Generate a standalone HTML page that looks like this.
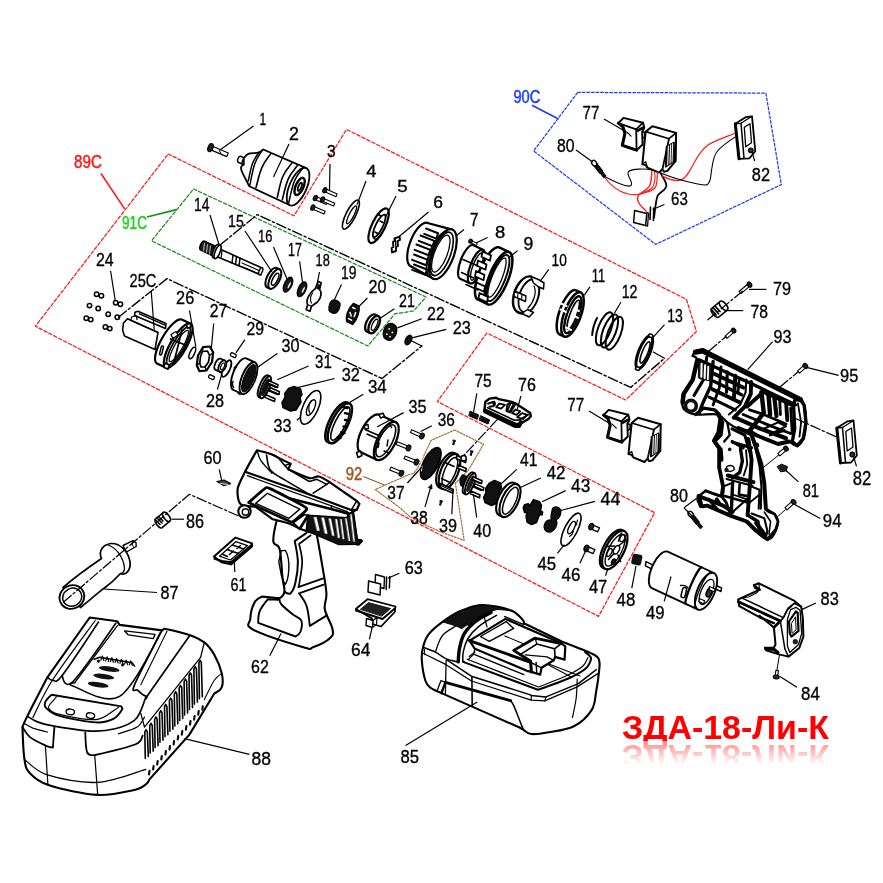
<!DOCTYPE html>
<html><head><meta charset="utf-8"><title>ЗДА-18-Ли-К</title>
<style>html,body{margin:0;padding:0;background:#fff}svg{display:block}text{font-family:"Liberation Sans",sans-serif}</style></head>
<body><svg width="883" height="883" viewBox="0 0 883 883">
<rect width="883" height="883" fill="#fff"/>
<defs><filter id="nf" x="0" y="0" width="883" height="883" filterUnits="userSpaceOnUse"><feOffset dx="0" dy="0"/></filter></defs>
<g filter="url(#nf)"><defs><linearGradient id="rg" x1="0" y1="0" x2="0" y2="1"><stop offset="0" stop-color="#fff" stop-opacity="0.55"/><stop offset="0.75" stop-color="#fff" stop-opacity="1"/></linearGradient></defs>
<text x="622" y="739" font-size="33" font-weight="bold" fill="#ff0000" textLength="207" lengthAdjust="spacingAndGlyphs">ЗДА-18-Ли-К</text>
<g transform="translate(0 1484) scale(1 -1)"><text x="622" y="739" font-size="33" font-weight="bold" fill="#ff0000" textLength="207" lengthAdjust="spacingAndGlyphs">ЗДА-18-Ли-К</text></g>
<rect x="615" y="741" width="225" height="32" fill="url(#rg)"/></g>
<path d="M168.2 154 L294 215.8 L346.5 129.4 L686.4 299.3 L696.4 331.6 L625.7 400 L486.8 333.1 L437.4 401.6 L654.7 512.7 L598.5 616.4 L35.4 326.2 Z" stroke="#ff1a1a" stroke-width="1.25" fill="none" stroke-linejoin="round" stroke-linecap="round" stroke-dasharray="3.4 2.1"/>
<path d="M193.6 189 L426 297 L413.6 311 L395 313.7 L367.8 346 L151.5 240.8 Z" stroke="#1a8f1a" stroke-width="1.25" fill="none" stroke-linejoin="round" stroke-linecap="round" stroke-dasharray="3.4 2.1"/>
<path d="M577.7 92.4 L765.9 93.1 L781.3 184.6 L655.7 244.4 L533.6 151 Z" stroke="#1a3cff" stroke-width="1.25" fill="none" stroke-linejoin="round" stroke-linecap="round" stroke-dasharray="2.6 2.0"/>
<path d="M454.6 430 L483.5 444.2 L468.3 470.4 L455.4 483.3 L464.2 540.4 L439.7 531.6 L419.4 522.1 L409.9 516.6 L399 507.1 L375.2 489.5 L409.4 474.4 L413.7 473.6 L419.4 465 L431.1 440.4 Z" stroke="#a5682a" stroke-width="1.15" fill="none" stroke-linejoin="round" stroke-linecap="round" stroke-dasharray="1.8 1.4"/>
<path d="M209.7 149.4 L226.7 156.6 L228.3 153 L211.3 145.8 Z" stroke="#000" stroke-width="1.2" fill="#fff" stroke-linejoin="round" stroke-linecap="round" /><ellipse cx="0" cy="0" rx="2.4" ry="4.2" transform="translate(210.5 147.6) rotate(23)" stroke="#000" stroke-width="1.2" fill="#222"/>
<line x1="219" y1="150" x2="221" y2="153.5" stroke="#000" stroke-width="1" />
<path d="M245.1 158.4 L240.6 156.3 A1.5 3.2 22 0 0 238.2 162.3 L242.7 164.4 Z" stroke="#000" stroke-width="1.5" fill="#fff" stroke-linejoin="round" stroke-linecap="round" /><ellipse cx="0" cy="0" rx="1.5" ry="3.2" transform="translate(243.9 161.4) rotate(22)" stroke="#000" stroke-width="1.5" fill="#fff"/>
<path d="M243.8 158.1 C244.6 157.4 246.3 154.5 248.8 153.6 C251.2 152.7 255.9 153.4 258.3 152.7 C260.7 152 262.4 150 263.2 149.5 L306.3 168.1 L290 205.2 L249.2 186.2 L249.2 186.2 C248.9 185.6 248.6 185 247.4 182.6 C246.2 180.2 243 174.3 242 171.7 C240.9 169.1 240.8 168.4 241.1 167.2 C241.4 166 243.3 164.9 243.8 164.5 Z" stroke="#000" stroke-width="1.8" fill="#fff" stroke-linejoin="round" stroke-linecap="round" />
<ellipse cx="0" cy="0" rx="8.6" ry="20.3" transform="translate(298.1 186.7) rotate(23.7)" stroke="#000" stroke-width="1.8" fill="#fff"/>
<path d="M259.2 152.2 C257.9 154.4 254.8 157.4 252.7 163.1 C250.5 168.8 249.2 177.2 248.3 180.8" stroke="#000" stroke-width="1.5" fill="none" stroke-linejoin="round" stroke-linecap="round" />
<path d="M262.3 150.1 C260.8 152.9 257.3 156.7 254.8 163.7 C252.3 170.8 250.8 181 249.8 185.3" stroke="#000" stroke-width="1.5" fill="none" stroke-linejoin="round" stroke-linecap="round" />
<path d="M270.9 153.6 C269.1 156.4 264.9 160.8 261.9 167.6 C258.9 174.4 257.2 183.6 256 187.6" stroke="#000" stroke-width="1.6" fill="none" stroke-linejoin="round" stroke-linecap="round" />
<path d="M291.8 163.1 C290 165.8 285.6 169.9 282.7 176.7 C279.8 183.5 278.4 193.1 277.3 197.2" stroke="#000" stroke-width="1.6" fill="none" stroke-linejoin="round" stroke-linecap="round" />
<path d="M297.2 165.8 C295.4 168.5 291.1 172.3 288.2 179.1 C285.2 185.9 283.4 195.7 282.3 199.8" stroke="#000" stroke-width="1.6" fill="none" stroke-linejoin="round" stroke-linecap="round" />
<path d="M303.6 167.2 C301.7 169.9 297.5 173.7 294.5 180.9 C291.5 188.2 289.8 198.9 288.6 203.4" stroke="#000" stroke-width="1.5" fill="none" stroke-linejoin="round" stroke-linecap="round" />
<ellipse cx="0" cy="0" rx="3.9" ry="9.2" transform="translate(299.6 186.4) rotate(23.7)" stroke="#000" stroke-width="2.4" fill="none"/>
<ellipse cx="0" cy="0" rx="1.5" ry="4.4" transform="translate(299.9 186.8) rotate(23.7)" stroke="#000" stroke-width="1.8" fill="none"/>
<path d="M324.2 191.6 L336 196.7 L337.2 193.9 L325.4 188.8 Z" stroke="#000" stroke-width="1.1" fill="#fff" stroke-linejoin="round" stroke-linecap="round" /><ellipse cx="0" cy="0" rx="1.9" ry="2.8" transform="translate(324.8 190.2) rotate(23.4)" stroke="#000" stroke-width="1.1" fill="#222"/>
<path d="M314.7 199.4 L326.4 204.4 L327.6 201.6 L315.9 196.6 Z" stroke="#000" stroke-width="1.1" fill="#fff" stroke-linejoin="round" stroke-linecap="round" /><ellipse cx="0" cy="0" rx="1.9" ry="2.8" transform="translate(315.3 198) rotate(23.1)" stroke="#000" stroke-width="1.1" fill="#222"/>
<path d="M321.9 201 L333.6 206 L334.8 203.2 L323.1 198.2 Z" stroke="#000" stroke-width="1.1" fill="#fff" stroke-linejoin="round" stroke-linecap="round" /><ellipse cx="0" cy="0" rx="1.9" ry="2.8" transform="translate(322.5 199.6) rotate(23.1)" stroke="#000" stroke-width="1.1" fill="#222"/>
<path d="M312.2 209 L324 214 L325.2 211.2 L313.4 206.2 Z" stroke="#000" stroke-width="1.1" fill="#fff" stroke-linejoin="round" stroke-linecap="round" /><ellipse cx="0" cy="0" rx="1.9" ry="2.8" transform="translate(312.8 207.6) rotate(23)" stroke="#000" stroke-width="1.1" fill="#222"/>
<ellipse cx="0" cy="0" rx="4.8" ry="16.2" transform="translate(350.9 214.6) rotate(27)" stroke="#000" stroke-width="1.6" fill="#fff"/>
<ellipse cx="0" cy="0" rx="2.4" ry="10" transform="translate(351.6 214.8) rotate(27)" stroke="#000" stroke-width="1.3" fill="none"/>
<ellipse cx="0" cy="0" rx="6.6" ry="19" transform="translate(378.6 225.7) rotate(26)" stroke="#000" stroke-width="2.2" fill="#fff"/>
<ellipse cx="0" cy="0" rx="3.6" ry="12.5" transform="translate(379.2 225.9) rotate(26)" stroke="#000" stroke-width="1.8" fill="none"/>
<path d="M377.5 214 L381 216 M375 232 L378.5 234 M380 221 L383 222.5" stroke="#000" stroke-width="1.6" fill="none" stroke-linejoin="round" stroke-linecap="round" />
<path d="M373 236 C374 241 378 240 381 234" stroke="#000" stroke-width="1.4" fill="none" stroke-linejoin="round" stroke-linecap="round" />
<path d="M394.5 238.5 L399.6 236.6 L400 240 L397.6 241.2 L398 246 L396 247 L396 251 L392 252.4 L391.6 248 L393.4 247 L393 241.8 L394.6 241.2 Z" stroke="#000" stroke-width="1.9" fill="#fff" stroke-linejoin="round" stroke-linecap="round" />
<path d="M395.5 240 L395.8 245.5" stroke="#000" stroke-width="1.4" fill="none" stroke-linejoin="round" stroke-linecap="round" />
<path d="M452.3 229.6 L428.5 223.3 A9.5 23.2 21 0 0 410.3 266 L433.3 278.8 Z" stroke="#000" stroke-width="2.2" fill="#fff" stroke-linejoin="round" stroke-linecap="round" />
<ellipse cx="0" cy="0" rx="11" ry="26.4" transform="translate(442.8 254.2) rotate(21)" stroke="#000" stroke-width="2.2" fill="#fff"/>
<ellipse cx="0" cy="0" rx="8.6" ry="23" transform="translate(441.8 253.9) rotate(21)" stroke="#000" stroke-width="1.7" fill="none"/>
<ellipse cx="0" cy="0" rx="6.4" ry="19.6" transform="translate(440.8 253.6) rotate(21)" stroke="#000" stroke-width="1.3" fill="none"/>
<path d="M446.5 231.5 A10.5 25 21 0 0 428 275.5" stroke="#000" stroke-width="1.8" fill="none" stroke-linejoin="round" stroke-linecap="round" />
<path d="M426 228.5 L438.1 233.2 L436.3 238.6 L424.2 233.9" stroke="#000" stroke-width="2.0" fill="none" stroke-linejoin="round" stroke-linecap="round" />
<path d="M420.5 235.5 L434.4 240.9 L432.6 246.3 L418.7 240.9" stroke="#000" stroke-width="2.0" fill="none" stroke-linejoin="round" stroke-linecap="round" />
<path d="M416.5 244.5 L430.4 249.9 L428.6 255.3 L414.7 249.9" stroke="#000" stroke-width="2.0" fill="none" stroke-linejoin="round" stroke-linecap="round" />
<path d="M414 254.5 L427.9 259.9 L426.1 265.3 L412.2 259.9" stroke="#000" stroke-width="2.0" fill="none" stroke-linejoin="round" stroke-linecap="round" />
<path d="M414 264.5 L427 269.5 L425.2 274.9 L412.2 269.9" stroke="#000" stroke-width="2.0" fill="none" stroke-linejoin="round" stroke-linecap="round" />
<path d="M470.1 242.2 L476.3 245.6 L477.3 243.6 L471.1 240.2 Z" stroke="#000" stroke-width="1" fill="#fff" stroke-linejoin="round" stroke-linecap="round" /><ellipse cx="0" cy="0" rx="1.8" ry="2.1" transform="translate(470.6 241.2) rotate(28.7)" stroke="#000" stroke-width="1" fill="#222"/>
<path d="M483 249.7 L473 245.1 A6.2 18 21 0 0 460.1 278.7 L470 283.3 Z" stroke="#000" stroke-width="2.2" fill="#fff" stroke-linejoin="round" stroke-linecap="round" /><ellipse cx="0" cy="0" rx="6.2" ry="18" transform="translate(476.5 266.5) rotate(21)" stroke="#000" stroke-width="2.2" fill="#fff"/>
<ellipse cx="0" cy="0" rx="4" ry="14.5" transform="translate(476.8 266.6) rotate(21)" stroke="#000" stroke-width="1.4" fill="none"/>
<path d="M509.2 252.1 L499.2 247.4 A9.6 28.2 22 0 0 478.1 299.7 L488 304.3 Z" stroke="#000" stroke-width="2.5" fill="#fff" stroke-linejoin="round" stroke-linecap="round" /><ellipse cx="0" cy="0" rx="9.6" ry="28.2" transform="translate(498.6 278.2) rotate(22)" stroke="#000" stroke-width="2.5" fill="#fff"/>
<ellipse cx="0" cy="0" rx="7.2" ry="24.8" transform="translate(498 278) rotate(22)" stroke="#000" stroke-width="1.9" fill="none"/>
<ellipse cx="0" cy="0" rx="5" ry="21" transform="translate(497 277.6) rotate(22)" stroke="#000" stroke-width="1.3" fill="none"/>
<path d="M482.5 251.5 L491 255.4 L490 260.7 L481.5 256.8 Z" stroke="#000" stroke-width="1.8" fill="#fff" stroke-linejoin="round" stroke-linecap="round" />
<path d="M478 260.5 L486.5 264.4 L485.5 269.7 L477 265.8 Z" stroke="#000" stroke-width="1.8" fill="#fff" stroke-linejoin="round" stroke-linecap="round" />
<path d="M476 271 L484.5 274.9 L483.5 280.2 L475 276.3 Z" stroke="#000" stroke-width="1.8" fill="#fff" stroke-linejoin="round" stroke-linecap="round" />
<path d="M476.5 282.5 L485 286.4 L484 291.7 L475.5 287.8 Z" stroke="#000" stroke-width="1.8" fill="#fff" stroke-linejoin="round" stroke-linecap="round" />
<path d="M479.5 293 L488 296.9 L487 302.2 L478.5 298.3 Z" stroke="#000" stroke-width="1.8" fill="#fff" stroke-linejoin="round" stroke-linecap="round" />
<path d="M463 259.5 L478 266 M461.5 272.5 L476 279 M466 284.5 L478 290" stroke="#000" stroke-width="1.6" fill="none" stroke-linejoin="round" stroke-linecap="round" />
<path d="M531 276.5 C523 275 514 287 513 300 C512.5 308 516 313 522 313.5" stroke="#000" stroke-width="2.4" fill="none" stroke-linejoin="round" stroke-linecap="round" />
<path d="M533.5 279 C527 279 519 289 518.5 301 C518 308 521 312 525.5 312.5" stroke="#000" stroke-width="1.8" fill="none" stroke-linejoin="round" stroke-linecap="round" />
<path d="M537 282 C542 290 538 304 530 311" stroke="#000" stroke-width="2.0" fill="none" stroke-linejoin="round" stroke-linecap="round" />
<path d="M534 286 C537 292 534 302 528 308" stroke="#000" stroke-width="1.2" fill="none" stroke-linejoin="round" stroke-linecap="round" />
<path d="M531 276.5 L538.5 279.5 L544 283 L543.5 289 L538 286.5 L533.5 283 Z" stroke="#000" stroke-width="1.5" fill="#fff" stroke-linejoin="round" stroke-linecap="round" />
<path d="M522 313.5 L529 317 L533.5 312.5 L527.5 309.5 Z" stroke="#000" stroke-width="1.5" fill="#fff" stroke-linejoin="round" stroke-linecap="round" />
<path d="M514.5 291 L526 296 L525.5 301.5 L514 296.5 Z" stroke="#000" stroke-width="1.4" fill="#fff" stroke-linejoin="round" stroke-linecap="round" />
<path d="M518 292.5 L517.5 298 M522 294.2 L521.5 299.7" stroke="#000" stroke-width="1.1" fill="none" stroke-linejoin="round" stroke-linecap="round" />
<path d="M580.5 292.4 L576 290.3 A8.4 23.5 20 0 0 559.9 334.5 L564.5 336.6 Z" stroke="#000" stroke-width="2.5" fill="#fff" stroke-linejoin="round" stroke-linecap="round" /><ellipse cx="0" cy="0" rx="8.4" ry="23.5" transform="translate(572.5 314.5) rotate(20)" stroke="#000" stroke-width="2.5" fill="#fff"/>
<ellipse cx="0" cy="0" rx="5.8" ry="19.5" transform="translate(572.8 314.7) rotate(20)" stroke="#000" stroke-width="2.4" fill="none"/>
<ellipse cx="0" cy="0" rx="3.4" ry="15.5" transform="translate(573.3 314.9) rotate(20)" stroke="#000" stroke-width="1.6" fill="none"/>
<path d="M561 303.5 L566.5 306 M560.5 309.5 L566 312 M574 309 L579 311 M573 315.5 L578 317.8 M566 327.5 L571 330" stroke="#fff" stroke-width="2.0" fill="none" stroke-linejoin="round" stroke-linecap="round" />
<ellipse cx="0" cy="0" rx="6.4" ry="17.5" transform="translate(604.5 328.8) rotate(21)" stroke="#000" stroke-width="2.0" fill="none"/>
<ellipse cx="0" cy="0" rx="6.4" ry="17.5" transform="translate(609.5 331) rotate(21)" stroke="#000" stroke-width="2.0" fill="none"/>
<ellipse cx="0" cy="0" rx="6.4" ry="17.5" transform="translate(614.3 333.2) rotate(21)" stroke="#000" stroke-width="2.0" fill="none"/>
<path d="M597 318 C594 324 592.5 330 592.2 335" stroke="#000" stroke-width="2.0" fill="none" stroke-linejoin="round" stroke-linecap="round" />
<ellipse cx="0" cy="0" rx="5.6" ry="17.5" transform="translate(644.3 352.2) rotate(22)" stroke="#000" stroke-width="3.0" fill="#fff"/>
<ellipse cx="0" cy="0" rx="2.8" ry="11.5" transform="translate(645 352.4) rotate(22)" stroke="#000" stroke-width="1.5" fill="none"/>
<ellipse cx="0" cy="0" rx="2.2" ry="1.6" transform="translate(650.8 335.8) rotate(22)" stroke="#000" stroke-width="1.6" fill="#fff"/>
<ellipse cx="0" cy="0" rx="2.2" ry="1.6" transform="translate(637.6 368.6) rotate(22)" stroke="#000" stroke-width="1.6" fill="#fff"/>
<path d="M217.5 248 L260.5 267.3 L261 275 L216.5 256.5 Z" stroke="#000" stroke-width="1.6" fill="#fff" stroke-linejoin="round" stroke-linecap="round" />
<ellipse cx="0" cy="0" rx="1.6" ry="3.9" transform="translate(260.8 271.2) rotate(22)" stroke="#000" stroke-width="1.4" fill="#fff"/>
<path d="M233 255 L232 263 M236.5 256.5 L235.5 264.5 M240 258.2 L239 266" stroke="#000" stroke-width="1.5" fill="none" stroke-linejoin="round" stroke-linecap="round" />
<path d="M242 263 L259 270.5 M243 267 L258.5 273.8" stroke="#000" stroke-width="1.1" fill="none" stroke-linejoin="round" stroke-linecap="round" />
<path d="M222 251 L221 258.5" stroke="#000" stroke-width="1.2" fill="none" stroke-linejoin="round" stroke-linecap="round" />
<path d="M214.8 246 L204.4 241.2 A2.2 4.8 22 0 0 200.8 250.1 L211.2 255 Z" stroke="#000" stroke-width="1.5" fill="#222" stroke-linejoin="round" stroke-linecap="round" /><ellipse cx="0" cy="0" rx="2.2" ry="4.8" transform="translate(213 250.5) rotate(22)" stroke="#000" stroke-width="1.5" fill="#222"/>
<path d="M204.5 243.5 L203.5 251 M207.5 244.8 L206.5 252.5 M210.5 246 L209.5 254" stroke="#fff" stroke-width="0.7" fill="none" stroke-linejoin="round" stroke-linecap="round" />
<path d="M220.3 245.1 L218.3 244.2 A2.4 7.2 22 0 0 212.9 257.5 L214.9 258.5 Z" stroke="#000" stroke-width="1.6" fill="#fff" stroke-linejoin="round" stroke-linecap="round" /><ellipse cx="0" cy="0" rx="2.4" ry="7.2" transform="translate(217.6 251.8) rotate(22)" stroke="#000" stroke-width="1.6" fill="#fff"/>
<path d="M279.7 269.4 L276.8 268 A4.8 10.8 27 0 0 267 287.3 L269.9 288.6 Z" stroke="#000" stroke-width="2.0" fill="#fff" stroke-linejoin="round" stroke-linecap="round" /><ellipse cx="0" cy="0" rx="4.8" ry="10.8" transform="translate(274.8 279) rotate(27)" stroke="#000" stroke-width="2.0" fill="#fff"/>
<ellipse cx="0" cy="0" rx="2.4" ry="6.6" transform="translate(275.2 279.2) rotate(27)" stroke="#000" stroke-width="1.5" fill="none"/>
<ellipse cx="0" cy="0" rx="3.6" ry="7.8" transform="translate(288 284.6) rotate(25)" stroke="#000" stroke-width="1.6" fill="#1a1a1a"/>
<ellipse cx="0" cy="0" rx="0.5" ry="3.2" transform="translate(289.3 285.2) rotate(25)" stroke="#fff" stroke-width="0.5" fill="#fff"/>
<ellipse cx="0" cy="0" rx="3.6" ry="7.8" transform="translate(302 289.3) rotate(25)" stroke="#000" stroke-width="1.6" fill="#1a1a1a"/>
<ellipse cx="0" cy="0" rx="0.5" ry="3" transform="translate(303.3 289.9) rotate(25)" stroke="#fff" stroke-width="0.5" fill="#fff"/>
<path d="M318.2 281.5 L321.2 282.8 L319.6 289.5 C322 292 321.5 298 317.5 302 L311.5 306.2 L310 311.2 L306.2 309.8 L307.6 304.8 C305.5 300 309.5 292.5 315.2 288.8 Z" stroke="#000" stroke-width="1.7" fill="#fff" stroke-linejoin="round" stroke-linecap="round" />
<path d="M316.5 288 L319.2 289.3 M308 304.8 L311.6 306.2 M312.5 293 C310 297 310 300.5 311.5 303" stroke="#000" stroke-width="1.2" fill="none" stroke-linejoin="round" stroke-linecap="round" />
<path d="M318.6 284.5 L319.8 285 L319 288.5 L317.6 288 Z" stroke="#000" stroke-width="1.0" fill="#000" stroke-linejoin="round" stroke-linecap="round" />
<path d="M332 300.5 C335 299.2 339 300.8 340 303.5 C340.5 307 338.2 311.6 336 313 C333 314 329.6 312.4 329 310 C328.5 306.5 329.8 302.2 332 300.5 Z" stroke="#000" stroke-width="1.3" fill="#111" stroke-linejoin="round" stroke-linecap="round" />
<path d="M353.4 303.6 L359 306.2 C360 311 357.2 319.6 352.6 324.4 L346.8 321.6 C345.4 316 348.6 307.8 353.4 303.6 Z" stroke="#000" stroke-width="1.6" fill="#111" stroke-linejoin="round" stroke-linecap="round" />
<path d="M352.6 307.5 L355 308.6 M350 312.5 L351.2 316 M355.6 312.5 L354.2 316.5 M348.6 318.6 L351.6 320.2" stroke="#fff" stroke-width="1.5" fill="none" stroke-linejoin="round" stroke-linecap="round" />
<path d="M378.3 316.2 L375.1 314.6 A4.6 9.4 26 0 0 366.8 331.5 L370.1 333 Z" stroke="#000" stroke-width="2.3" fill="#fff" stroke-linejoin="round" stroke-linecap="round" /><ellipse cx="0" cy="0" rx="4.6" ry="9.4" transform="translate(374.2 324.6) rotate(26)" stroke="#000" stroke-width="2.3" fill="#fff"/>
<ellipse cx="0" cy="0" rx="2.2" ry="6" transform="translate(374.6 324.8) rotate(26)" stroke="#000" stroke-width="1.3" fill="none"/>
<path d="M388.4 324.2 C392 322.4 396.4 325 396.7 329 C396.9 333.6 394.2 338.8 391 340 C387.4 340.7 383.7 338.4 383.3 334.8 C383.2 330.6 385.1 326.5 388.4 324.2 Z" stroke="#000" stroke-width="1.5" fill="#111" stroke-linejoin="round" stroke-linecap="round" />
<circle cx="389.2" cy="328.8" r="0.9" fill="#fff"/><circle cx="386.8" cy="334.2" r="0.9" fill="#fff"/><circle cx="392.4" cy="332.4" r="0.9" fill="#fff"/><circle cx="390" cy="336.6" r="0.9" fill="#fff"/>
<ellipse cx="0" cy="0" rx="2.9" ry="5.2" transform="translate(408.4 340) rotate(28)" stroke="#000" stroke-width="1.2" fill="#111"/>
<circle cx="96.6" cy="294.2" r="2.2" fill="#fff" stroke="#000" stroke-width="1.55"/>
<circle cx="101.4" cy="295.8" r="2.2" fill="#fff" stroke="#000" stroke-width="1.55"/>
<circle cx="115.7" cy="302.8" r="2.2" fill="#fff" stroke="#000" stroke-width="1.55"/>
<circle cx="120.4" cy="304.3" r="2.2" fill="#fff" stroke="#000" stroke-width="1.55"/>
<circle cx="89.5" cy="305.6" r="2.2" fill="#fff" stroke="#000" stroke-width="1.55"/>
<circle cx="98.2" cy="308.5" r="2.2" fill="#fff" stroke="#000" stroke-width="1.55"/>
<circle cx="108.2" cy="314.3" r="2.2" fill="#fff" stroke="#000" stroke-width="1.55"/>
<circle cx="117.3" cy="317.2" r="2.2" fill="#fff" stroke="#000" stroke-width="1.55"/>
<circle cx="86.3" cy="318.3" r="2.2" fill="#fff" stroke="#000" stroke-width="1.55"/>
<circle cx="90.8" cy="319.6" r="2.2" fill="#fff" stroke="#000" stroke-width="1.55"/>
<circle cx="105.4" cy="327" r="2.2" fill="#fff" stroke="#000" stroke-width="1.55"/>
<circle cx="109.8" cy="328.6" r="2.2" fill="#fff" stroke="#000" stroke-width="1.55"/>
<path d="M135 312.3 L138 311.2 L166 323.6 L165.5 328.5 L134.5 315.5 Z" stroke="#000" stroke-width="1.6" fill="#fff" stroke-linejoin="round" stroke-linecap="round" />
<path d="M136.5 315.8 L137 319.5 M139.5 313.8 L165 325.2" stroke="#000" stroke-width="1.3" fill="none" stroke-linejoin="round" stroke-linecap="round" />
<path d="M127.5 318.8 L158 332.5 L155 349.5 L124.5 336 L122.6 330 L123.5 323 Z" stroke="#000" stroke-width="1.6" fill="#fff" stroke-linejoin="round" stroke-linecap="round" />
<path d="M131 320.5 L131.5 317 L135 316 M131.5 320.6 L157 332" stroke="#000" stroke-width="1.2" fill="none" stroke-linejoin="round" stroke-linecap="round" />
<path d="M190.8 323.8 L181.7 319.6 A8 25.2 30 0 0 156.5 363.2 L165.6 367.4 Z" stroke="#000" stroke-width="2.2" fill="#fff" stroke-linejoin="round" stroke-linecap="round" /><ellipse cx="0" cy="0" rx="8" ry="25.2" transform="translate(178.2 345.6) rotate(30)" stroke="#000" stroke-width="2.2" fill="#fff"/>
<ellipse cx="0" cy="0" rx="5.8" ry="21.5" transform="translate(178.5 345.8) rotate(30)" stroke="#000" stroke-width="1.8" fill="none"/>
<ellipse cx="0" cy="0" rx="4" ry="18" transform="translate(178.8 346) rotate(30)" stroke="#000" stroke-width="1.3" fill="none"/>
<path d="M170.5 339 L186.5 345.5 M182 330 L174 362" stroke="#000" stroke-width="1.7" fill="none" stroke-linejoin="round" stroke-linecap="round" />
<path d="M171 334.5 L176 331.5 L178 335 L173 338.5 Z" stroke="#000" stroke-width="1.4" fill="#fff" stroke-linejoin="round" stroke-linecap="round" />
<path d="M186.5 324.6 L190.2 323.6 L191 326.8 L187.6 328.2 Z" stroke="#000" stroke-width="1.6" fill="#fff" stroke-linejoin="round" stroke-linecap="round" />
<path d="M165 363 L169 365 L168 369.2 L164 367.2 Z" stroke="#000" stroke-width="1.6" fill="#fff" stroke-linejoin="round" stroke-linecap="round" />
<rect x="-1.1" y="-4.6" width="2.2" height="9.2" rx="1.1" transform="translate(161.5 350.5) rotate(14)" fill="#fff" stroke="#000" stroke-width="1.5"/>
<ellipse cx="0" cy="0" rx="2.3" ry="6.2" transform="translate(192.3 352.9) rotate(25)" stroke="#000" stroke-width="1.5" fill="none"/>
<path d="M203 347.2 L209.8 346.5 L213.2 352.5 L212 362 L206.5 370.5 L199.5 371.2 L196.8 365.5 L198 355.5 Z" stroke="#000" stroke-width="2.2" fill="#fff" stroke-linejoin="round" stroke-linecap="round" />
<path d="M202.5 351.5 L207.5 351 L209.5 355.5 L208.5 362 L205 367 L201 367 L199.8 363 L200.5 356.5 Z" stroke="#000" stroke-width="1.7" fill="none" stroke-linejoin="round" stroke-linecap="round" />
<path d="M203 347.2 L202.5 351.5 M213.2 352.5 L209.5 355.5 M206.5 370.5 L205 367 M196.8 365.5 L199.8 363" stroke="#000" stroke-width="1.2" fill="none" stroke-linejoin="round" stroke-linecap="round" />
<ellipse cx="0" cy="0" rx="3.4" ry="9" transform="translate(226.5 368.6) rotate(25)" stroke="#000" stroke-width="1.9" fill="#fff"/>
<path d="M224.9 360.6 L220.8 358.7 A3.4 6.2 25 0 0 215.6 369.9 L219.7 371.8 Z" stroke="#000" stroke-width="1.8" fill="#fff" stroke-linejoin="round" stroke-linecap="round" /><ellipse cx="0" cy="0" rx="3.4" ry="6.2" transform="translate(222.3 366.2) rotate(25)" stroke="#000" stroke-width="1.8" fill="#fff"/>
<ellipse cx="0" cy="0" rx="1.7" ry="3.6" transform="translate(222.6 366.4) rotate(25)" stroke="#000" stroke-width="1.2" fill="none"/>
<rect x="-2.9" y="-1.7" width="5.8" height="3.4" rx="1.2" transform="translate(233.3 355.2) rotate(25)" fill="#fff" stroke="#000" stroke-width="1.3"/>
<rect x="-2.9" y="-1.7" width="5.8" height="3.4" rx="1.2" transform="translate(211.5 377.2) rotate(25)" fill="#fff" stroke="#000" stroke-width="1.3"/>
<path d="M254.9 362.4 L246.3 358.4 A6.8 17 22 0 0 233.5 390 L242.1 394 Z" stroke="#000" stroke-width="1.9" fill="#fff" stroke-linejoin="round" stroke-linecap="round" /><ellipse cx="0" cy="0" rx="6.8" ry="17" transform="translate(248.5 378.2) rotate(22)" stroke="#000" stroke-width="1.9" fill="#fff"/>
<ellipse cx="0" cy="0" rx="5" ry="14.6" transform="translate(248.8 378.3) rotate(22)" stroke="#000" stroke-width="1.0" fill="#111"/>
<path d="M236.5 366.5 L234.5 367.5 L234 371 M233 381.5 L232.2 384 L233.5 387.5 M238 393 L240 394.5" stroke="#000" stroke-width="1.5" fill="none" stroke-linejoin="round" stroke-linecap="round" />
<path d="M269.9 376.4 L267.6 375.3 A3.8 11.8 22 0 0 258.7 397.1 L261.1 398.2 Z" stroke="#000" stroke-width="1.9" fill="#fff" stroke-linejoin="round" stroke-linecap="round" /><ellipse cx="0" cy="0" rx="3.8" ry="11.8" transform="translate(265.5 387.3) rotate(22)" stroke="#000" stroke-width="1.9" fill="#fff"/>
<ellipse cx="0" cy="0" rx="2.2" ry="9" transform="translate(265.5 387.3) rotate(22)" stroke="#000" stroke-width="1.0" fill="#111"/>
<path d="M268.5 380.5 L278 384.7 L277.5 387.5 L267.9 383.4 Z" stroke="#000" stroke-width="1.5" fill="#fff" stroke-linejoin="round" stroke-linecap="round" />
<path d="M270 387.5 L279.5 391.7 L279 394.5 L269.4 390.4 Z" stroke="#000" stroke-width="1.5" fill="#fff" stroke-linejoin="round" stroke-linecap="round" />
<path d="M265.5 394.5 L275 398.7 L274.5 401.5 L264.9 397.4 Z" stroke="#000" stroke-width="1.5" fill="#fff" stroke-linejoin="round" stroke-linecap="round" />
<path d="M268 383.5 L276 387 M269 390.5 L277 394" stroke="#000" stroke-width="2.2" fill="none" stroke-linejoin="round" stroke-linecap="round" />
<path d="M294 386.5 L300.5 389 L302 394.5 L300 398 L301 402 L296 410 L290.5 411 L283 407.5 L282 402.5 L285 397 L284.8 393.5 L288.5 388.5 Z" stroke="#000" stroke-width="1.5" fill="#111" stroke-linejoin="round" stroke-linecap="round" />
<ellipse cx="0" cy="0" rx="7.6" ry="18.2" transform="translate(310.6 407.4) rotate(24.4)" stroke="#000" stroke-width="1.6" fill="#fff"/>
<ellipse cx="0" cy="0" rx="3.4" ry="8.5" transform="translate(311 407.6) rotate(24.4)" stroke="#000" stroke-width="1.4" fill="none"/>
<path d="M311.5 400.5 C308.5 404 308 410 310 413.5" stroke="#000" stroke-width="1.2" fill="none" stroke-linejoin="round" stroke-linecap="round" />
<path d="M349.6 403.6 L347.3 402.5 A8 22 26.5 0 0 327.6 441.9 L330 443 Z" stroke="#000" stroke-width="2.5" fill="#fff" stroke-linejoin="round" stroke-linecap="round" /><ellipse cx="0" cy="0" rx="8" ry="22" transform="translate(339.8 423.3) rotate(26.5)" stroke="#000" stroke-width="2.5" fill="#fff"/>
<ellipse cx="0" cy="0" rx="5.4" ry="18.5" transform="translate(340.3 423.5) rotate(26.5)" stroke="#000" stroke-width="1.6" fill="none"/>
<path d="M347.5 408 L343.5 407 M348.8 414 L345 413.2 M348.6 420.5 L345 420 M347 427 L343.5 426.5 M344.5 433 L341 432.5 M340.5 438 L337.5 437.5" stroke="#000" stroke-width="2.4" fill="none" stroke-linejoin="round" stroke-linecap="round" />
<path d="M395.8 422.3 L379.5 414.7 A9 21 27 0 0 360.4 452.1 L376.8 459.7 Z" stroke="#000" stroke-width="2.2" fill="#fff" stroke-linejoin="round" stroke-linecap="round" /><ellipse cx="0" cy="0" rx="9" ry="21" transform="translate(386.3 441) rotate(27)" stroke="#000" stroke-width="2.2" fill="#fff"/>
<ellipse cx="0" cy="0" rx="6.6" ry="17.6" transform="translate(385.8 440.8) rotate(27)" stroke="#000" stroke-width="1.6" fill="none"/>
<path d="M379 414.5 L383 413.2 L384.5 416.5 L380.5 418 Z" stroke="#000" stroke-width="1.6" fill="#fff" stroke-linejoin="round" stroke-linecap="round" />
<path d="M356.5 452.5 L360.5 451 L362 455.5 L358 457.5 Z" stroke="#000" stroke-width="1.6" fill="#fff" stroke-linejoin="round" stroke-linecap="round" />
<path d="M364.5 425.5 L368 424.5 L368.5 428.5 L365 429.5 Z" stroke="#000" stroke-width="1.4" fill="#fff" stroke-linejoin="round" stroke-linecap="round" />
<path d="M366 430 L380 436 M367 434 L379.5 439.5 M376 441.5 L379 443 L378 447.5 L375 446 Z M389.5 424 L391.5 427.5 M384 451 L389 453 M388 440 L387 446" stroke="#000" stroke-width="1.5" fill="none" stroke-linejoin="round" stroke-linecap="round" />
<path d="M376 448 C374 453 374 457 375.5 460" stroke="#000" stroke-width="1.3" fill="none" stroke-linejoin="round" stroke-linecap="round" />
<path d="M422.6 434.6 L411.6 429.8 L410.4 432.6 L421.4 437.4 Z" stroke="#000" stroke-width="1.1" fill="#fff" stroke-linejoin="round" stroke-linecap="round" /><ellipse cx="0" cy="0" rx="2.2" ry="3" transform="translate(422 436) rotate(-156.4)" stroke="#000" stroke-width="1.1" fill="#222"/>
<path d="M409.1 446.5 L397.3 441.7 L396.1 444.5 L407.9 449.3 Z" stroke="#000" stroke-width="1.1" fill="#fff" stroke-linejoin="round" stroke-linecap="round" /><ellipse cx="0" cy="0" rx="2.2" ry="3" transform="translate(408.5 447.9) rotate(-157.9)" stroke="#000" stroke-width="1.1" fill="#222"/>
<path d="M417.1 460.7 L405.2 456 L404 458.8 L415.9 463.5 Z" stroke="#000" stroke-width="1.1" fill="#fff" stroke-linejoin="round" stroke-linecap="round" /><ellipse cx="0" cy="0" rx="2.2" ry="3" transform="translate(416.5 462.1) rotate(-158.4)" stroke="#000" stroke-width="1.1" fill="#222"/>
<path d="M402 471.8 L390.9 467.1 L389.7 469.9 L400.8 474.6 Z" stroke="#000" stroke-width="1.1" fill="#fff" stroke-linejoin="round" stroke-linecap="round" /><ellipse cx="0" cy="0" rx="2.2" ry="3" transform="translate(401.4 473.2) rotate(-157.1)" stroke="#000" stroke-width="1.1" fill="#222"/>
<ellipse cx="0" cy="0" rx="7.4" ry="17.4" transform="translate(430.8 463.5) rotate(27)" stroke="#000" stroke-width="1.6" fill="#111"/>
<path d="M422.5 456 L421 462 M422 466 L421.5 471" stroke="#fff" stroke-width="0.9" fill="none" stroke-linejoin="round" stroke-linecap="round" />
<g transform="translate(453.8 442.6) rotate(15)"><rect x="-1.1" y="-2" width="2.2" height="4.6" fill="#111"/><ellipse cx="0" cy="-1.8" rx="1.9" ry="1.2" fill="#111"/></g>
<g transform="translate(471.3 453.2) rotate(15)"><rect x="-1.1" y="-2" width="2.2" height="4.6" fill="#111"/><ellipse cx="0" cy="-1.8" rx="1.9" ry="1.2" fill="#111"/></g>
<g transform="translate(440.7 503) rotate(15)"><rect x="-1.1" y="-2" width="2.2" height="4.6" fill="#111"/><ellipse cx="0" cy="-1.8" rx="1.9" ry="1.2" fill="#111"/></g>
<path d="M456.8 454.2 L454.1 452.9 A8.6 18.8 23 0 0 439.4 487.5 L442.2 488.8 Z" stroke="#000" stroke-width="2.1" fill="#fff" stroke-linejoin="round" stroke-linecap="round" /><ellipse cx="0" cy="0" rx="8.6" ry="18.8" transform="translate(449.5 471.5) rotate(23)" stroke="#000" stroke-width="2.1" fill="#fff"/>
<ellipse cx="0" cy="0" rx="5.6" ry="15.2" transform="translate(449.9 471.7) rotate(23)" stroke="#000" stroke-width="1.5" fill="none"/>
<path d="M456.6 455.5 L466 459.8 L465.6 462.6 L456.5 458.8 Z" stroke="#000" stroke-width="1.6" fill="#fff" stroke-linejoin="round" stroke-linecap="round" />
<circle cx="463.6" cy="458.2" r="2.6" fill="#fff" stroke="#000" stroke-width="1.5"/>
<path d="M458.2 465 L466.2 468.4 L465.8 471.4 L457.6 468 Z" stroke="#000" stroke-width="1.6" fill="#fff" stroke-linejoin="round" stroke-linecap="round" />
<path d="M440.5 483.5 L453.2 489.5 L452.6 493 L440.2 487.6 Z" stroke="#000" stroke-width="1.7" fill="#fff" stroke-linejoin="round" stroke-linecap="round" />
<path d="M441 485.5 L452.5 491" stroke="#000" stroke-width="1.2" fill="none" stroke-linejoin="round" stroke-linecap="round" />
<path d="M444 462 L454 466.5 M441.5 478.5 L450.5 482.8" stroke="#000" stroke-width="1.5" fill="none" stroke-linejoin="round" stroke-linecap="round" />
<path d="M462.5 475 L468 477.2 L467 488 L461 485.6 C459.6 482 460.2 477.6 462.5 475 Z" stroke="#000" stroke-width="1.4" fill="#111" stroke-linejoin="round" stroke-linecap="round" />
<path d="M474.8 473.3 L472.6 472.3 A3.5 11.4 23 0 0 463.7 493.3 L465.8 494.3 Z" stroke="#000" stroke-width="1.9" fill="#fff" stroke-linejoin="round" stroke-linecap="round" /><ellipse cx="0" cy="0" rx="3.5" ry="11.4" transform="translate(470.3 483.8) rotate(23)" stroke="#000" stroke-width="1.9" fill="#fff"/>
<ellipse cx="0" cy="0" rx="1.8" ry="8.6" transform="translate(470.3 483.8) rotate(23)" stroke="#000" stroke-width="0.8" fill="#222"/>
<path d="M473 476.8 L482 480.8 L481.5 483.6 L472.4 479.6 Z" stroke="#000" stroke-width="1.5" fill="#fff" stroke-linejoin="round" stroke-linecap="round" />
<path d="M474.8 483.6 L483.8 487.6 L483.3 490.4 L474.2 486.4 Z" stroke="#000" stroke-width="1.5" fill="#fff" stroke-linejoin="round" stroke-linecap="round" />
<path d="M471 491 L480 495 L479.5 497.8 L470.4 493.8 Z" stroke="#000" stroke-width="1.5" fill="#fff" stroke-linejoin="round" stroke-linecap="round" />
<path d="M472.6 479.8 L480 483.2 M473.8 486.8 L481 490" stroke="#000" stroke-width="2.0" fill="none" stroke-linejoin="round" stroke-linecap="round" />
<path d="M494.5 480.5 L500.5 483 L501.5 488 L499.5 491 L500.5 495 L496 503.5 L491.5 505.5 L485 502.5 L483.6 497.5 L486 492.5 L485.6 488.5 L489 483.5 Z" stroke="#000" stroke-width="1.5" fill="#111" stroke-linejoin="round" stroke-linecap="round" />
<path d="M517.5 484.5 L513.9 482.8 A8.2 17.8 25 0 0 498.8 515 L502.5 516.7 Z" stroke="#000" stroke-width="2.1" fill="#fff" stroke-linejoin="round" stroke-linecap="round" /><ellipse cx="0" cy="0" rx="8.2" ry="17.8" transform="translate(510 500.6) rotate(25)" stroke="#000" stroke-width="2.1" fill="#fff"/>
<ellipse cx="0" cy="0" rx="5.4" ry="14.6" transform="translate(510.3 500.7) rotate(25)" stroke="#000" stroke-width="1.5" fill="none"/>
<path d="M533.5 499.6 L539.5 501.6 L541.5 505.5 L540.5 510.5 L542.6 512.2 L542 515 L539.6 514.6 L536.5 522.5 L531.5 524.6 L527 522 L526 516 L527.4 513 L524.6 512.4 L523.2 508 L524.6 504.6 L528.2 503.6 L529.6 506 Z" stroke="#000" stroke-width="1.5" fill="#111" stroke-linejoin="round" stroke-linecap="round" />
<path d="M553.5 507.5 C556.5 505.8 560.6 508 560.8 511.5 C560.6 515.5 558.6 518.8 555.8 519.8 C557.2 521.6 557 524.5 555.6 527.5 C553.6 531.5 549.5 533 546.6 531.5 C543.8 529.8 543.6 526 545.2 523 C546.6 520.6 549.2 519.6 551.6 520 C550.8 518 551 515.5 551.6 513.5 C551.8 511 552.2 508.6 553.5 507.5 Z" stroke="#000" stroke-width="1.4" fill="#111" stroke-linejoin="round" stroke-linecap="round" />
<ellipse cx="0" cy="0" rx="6.4" ry="18.2" transform="translate(571 529.6) rotate(27)" stroke="#000" stroke-width="1.6" fill="#fff"/>
<ellipse cx="0" cy="0" rx="2.6" ry="6.8" transform="translate(571.6 527.6) rotate(27)" stroke="#000" stroke-width="1.4" fill="none"/>
<path d="M569.5 536.5 C571.5 535.5 573 533 573.5 531 M577.5 520 C576.5 522.5 576.5 524 576.8 525" stroke="#000" stroke-width="1.1" fill="none" stroke-linejoin="round" stroke-linecap="round" />
<path d="M590.3 528.6 L597.7 531.8 L599.5 527.8 L592.1 524.6 Z" stroke="#000" stroke-width="1.3" fill="#fff" stroke-linejoin="round" stroke-linecap="round" /><ellipse cx="0" cy="0" rx="2.3" ry="3.3" transform="translate(591.2 526.6) rotate(23.4)" stroke="#000" stroke-width="1.3" fill="#222"/>
<path d="M585.5 550.4 L593.1 553.6 L594.9 549.6 L587.3 546.4 Z" stroke="#000" stroke-width="1.3" fill="#fff" stroke-linejoin="round" stroke-linecap="round" /><ellipse cx="0" cy="0" rx="2.3" ry="3.3" transform="translate(586.4 548.4) rotate(22.8)" stroke="#000" stroke-width="1.3" fill="#222"/>
<path d="M624.6 531.2 L622.4 530.2 A9.2 21.2 27.5 0 0 602.8 567.8 L605 568.8 Z" stroke="#000" stroke-width="2.2" fill="#fff" stroke-linejoin="round" stroke-linecap="round" /><ellipse cx="0" cy="0" rx="9.2" ry="21.2" transform="translate(614.8 550) rotate(27.5)" stroke="#000" stroke-width="2.2" fill="#fff"/>
<ellipse cx="0" cy="0" rx="6.6" ry="17.6" transform="translate(615.1 550.2) rotate(27.5)" stroke="#000" stroke-width="1.4" fill="none"/>
<ellipse cx="0" cy="0" rx="2.6" ry="4.6" transform="translate(616.5 549.8) rotate(27.5)" stroke="#000" stroke-width="1.5" fill="none"/>
<path d="M606 546.5 L614.5 546 M608.5 559.5 L614 553.5 M619 545.5 L626.5 539.5 M618 555 L620.5 561.5 M621.5 533 L618.5 541" stroke="#000" stroke-width="1.6" fill="none" stroke-linejoin="round" stroke-linecap="round" />
<ellipse cx="0" cy="0" rx="2.2" ry="4" transform="translate(622.5 538) rotate(27.5)" stroke="#000" stroke-width="1.3" fill="none"/>
<ellipse cx="0" cy="0" rx="2" ry="4.4" transform="translate(609.5 552.5) rotate(27.5)" stroke="#000" stroke-width="1.3" fill="none"/>
<ellipse cx="0" cy="0" rx="1.8" ry="3" transform="translate(613.6 561.6) rotate(27.5)" stroke="#000" stroke-width="1.2" fill="#111"/>
<rect x="-5" y="-5.4" width="10" height="10.8" rx="2.4" transform="translate(636.8 559.6) rotate(12)" fill="#111"/>
<path d="M646 561.6 L654.5 565.8 L654 570 L645.4 565.8 Z" stroke="#000" stroke-width="1.5" fill="#fff" stroke-linejoin="round" stroke-linecap="round" />
<path d="M715 584.8 L721.6 588 L721 591.5 L714.5 588.6 Z" stroke="#000" stroke-width="1.4" fill="#fff" stroke-linejoin="round" stroke-linecap="round" />
<path d="M713.9 573 L667.6 551.6 A8.6 19.9 23.4 0 0 651.8 588.1 L698.1 609.6 Z" stroke="#000" stroke-width="1.9" fill="#fff" stroke-linejoin="round" stroke-linecap="round" /><ellipse cx="0" cy="0" rx="8.6" ry="19.9" transform="translate(706 591.3) rotate(23.4)" stroke="#000" stroke-width="1.9" fill="#fff"/>
<path d="M701.7 567.4 A3 19.9 23.4 0 0 685.9 603.9" stroke="#000" stroke-width="2.2" fill="none" stroke-linejoin="round" stroke-linecap="round" />
<path d="M711.5 571.9 A4 19.9 23.4 0 0 695.7 608.5" stroke="#000" stroke-width="1.3" fill="none" stroke-linejoin="round" stroke-linecap="round" />
<ellipse cx="0" cy="0" rx="5.6" ry="13.5" transform="translate(706.6 591.9) rotate(23.4)" stroke="#000" stroke-width="1.3" fill="none"/>
<ellipse cx="0" cy="0" rx="2.6" ry="4.6" transform="translate(709.2 592.6) rotate(23.4)" stroke="#000" stroke-width="1.6" fill="#333"/>
<path d="M709.5 586.5 L715 589 L714.5 592 L709 589.6 Z" stroke="#000" stroke-width="1.3" fill="#fff" stroke-linejoin="round" stroke-linecap="round" />
<path d="M699.5 598.5 L704.5 600.8 L703.8 604 L698.8 601.6 Z" stroke="#000" stroke-width="1.2" fill="#fff" stroke-linejoin="round" stroke-linecap="round" />
<rect x="-2" y="-5.2" width="4" height="10.4" rx="2" transform="translate(683.8 592.6) rotate(14)" fill="#fff" stroke="#000" stroke-width="1.5"/>
<path d="M680.5 585.5 C683 584.8 686.5 586 688 588" stroke="#000" stroke-width="1.3" fill="none" stroke-linejoin="round" stroke-linecap="round" />
<path d="M470.4 411.3 L478.6 414.9 L477.2 419.4 L469.1 415.8 Z" stroke="#000" stroke-width="1" fill="#111" stroke-linejoin="round" stroke-linecap="round" />
<path d="M480.9 415.8 L489.5 419.9 L488.1 424 L479.5 420.3 Z" stroke="#000" stroke-width="1" fill="#111" stroke-linejoin="round" stroke-linecap="round" />
<path d="M485.4 401.8 L489.5 398.6 L496.2 397.7 L498.7 399.2 L512.1 402 L515.7 403.6 L530.2 413.1 L530.8 416.3 L528.4 419 L521.3 423.1 L519.5 426.7 L514.8 426.7 L484.9 412.2 L484.5 409.5 Z" stroke="#000" stroke-width="2.4" fill="#fff" stroke-linejoin="round" stroke-linecap="round" />
<path d="M485.1 410.7 L515.7 424.9 L519.3 424.9 L521 422.2" stroke="#000" stroke-width="4.2" fill="none" stroke-linejoin="round" stroke-linecap="round" />
<path d="M487.6 407.7 L514.4 420.3 L519.3 419.9 L528.4 414.5" stroke="#000" stroke-width="1.6" fill="none" stroke-linejoin="round" stroke-linecap="round" />
<path d="M488.1 403.6 L492.2 402.2 L494.9 403.6 L493.8 405.9 L489.5 406.8" stroke="#000" stroke-width="2.0" fill="none" stroke-linejoin="round" stroke-linecap="round" />
<path d="M499.4 403.6 L504.9 404.9 L501.2 408.6 L496.2 407.2 Z" stroke="#000" stroke-width="1.8" fill="none" stroke-linejoin="round" stroke-linecap="round" />
<path d="M507.6 404.5 L512.1 402.2 L515.3 404 L510.3 412.2 L506.7 410.8 Z" stroke="#000" stroke-width="2.4" fill="none" stroke-linejoin="round" stroke-linecap="round" />
<path d="M510.3 404.5 L507.6 410.4" stroke="#000" stroke-width="1.4" fill="none" stroke-linejoin="round" stroke-linecap="round" />
<path d="M513 404.5 L509.6 411.6" stroke="#000" stroke-width="1.4" fill="none" stroke-linejoin="round" stroke-linecap="round" />
<path d="M515.7 409.5 L520.3 411.3 L516.6 414.9 L512.1 413.1 Z" stroke="#000" stroke-width="1.8" fill="none" stroke-linejoin="round" stroke-linecap="round" />
<path d="M522.1 413.1 L527.5 414.9 L523 419 L517.1 417.2 Z" stroke="#000" stroke-width="1.8" fill="none" stroke-linejoin="round" stroke-linecap="round" />
<path d="M494 402.2 L494.2 404.5" stroke="#000" stroke-width="3.0" fill="none" stroke-linejoin="round" stroke-linecap="round" />
<path d="M603.6 415.1 L608.7 409.9 L628.2 414.7 L629.5 419.8 L627.4 423.8 L627.8 436.5 L621.8 442.2 L607.5 437.3 L610.3 423.8 L607.5 417 Z" stroke="#000" stroke-width="2.0" fill="#fff" stroke-linejoin="round" stroke-linecap="round" /><path d="M603.6 415.1 L621.4 421.4 L628.2 414.7" stroke="#000" stroke-width="1.8" fill="none" stroke-linejoin="round" stroke-linecap="round" /><path d="M621.4 421.4 L621.8 442.2" stroke="#000" stroke-width="1.8" fill="none" stroke-linejoin="round" stroke-linecap="round" /><path d="M603.6 415.1 L607.9 418.6 L610.2 425.4 L607.5 437.3 L621.8 442.2" stroke="#000" stroke-width="3.0" fill="none" stroke-linejoin="round" stroke-linecap="round" /><path d="M611.9 423.8 L616.3 428.2" stroke="#000" stroke-width="1.2" fill="none" stroke-linejoin="round" stroke-linecap="round" /><path d="M623 422.6 L627.8 419.8" stroke="#000" stroke-width="2.6" fill="none" stroke-linejoin="round" stroke-linecap="round" /><path d="M627.4 423.8 L630.1 424.6 L630.1 429.3 L627.8 430.1" stroke="#000" stroke-width="1.6" fill="none" stroke-linejoin="round" stroke-linecap="round" />
<path d="M631.7 423 L638.1 417.8 L660.7 424.2 L660.3 450.8 L652.3 460.4 L649.2 461.2 L647.6 458.8 L644.4 462 L633.3 457.3 L631.7 454.9 L628.5 454.1 L630.1 438.1 Z" stroke="#000" stroke-width="2.0" fill="#fff" stroke-linejoin="round" stroke-linecap="round" /><path d="M631.7 423 L653.9 429.7 L660.7 424.2" stroke="#000" stroke-width="1.7" fill="none" stroke-linejoin="round" stroke-linecap="round" /><path d="M653.9 429.7 L650.8 444.4 L647.6 458.8" stroke="#000" stroke-width="1.8" fill="none" stroke-linejoin="round" stroke-linecap="round" /><path d="M651.5 437.3 L658.7 433.3 L659.1 450.8 L650.8 456.5 Z" stroke="#000" stroke-width="1.6" fill="#222" stroke-linejoin="round" stroke-linecap="round" /><path d="M653.3 436.6 L652.7 454.7" stroke="#fff" stroke-width="1.0" fill="none" stroke-linejoin="round" stroke-linecap="round" /><path d="M655.5 435.4 L654.9 453.2" stroke="#fff" stroke-width="1.0" fill="none" stroke-linejoin="round" stroke-linecap="round" /><path d="M657.4 434.4 L656.8 451.8" stroke="#fff" stroke-width="1.0" fill="none" stroke-linejoin="round" stroke-linecap="round" /><path d="M628.5 454.1 L631.7 451.5 L633.3 457.3" stroke="#000" stroke-width="1.2" fill="none" stroke-linejoin="round" stroke-linecap="round" />
<path d="M618.4 123.1 L623.5 117.9 L643 122.7 L644.3 127.8 L642.2 131.8 L642.6 144.5 L636.6 150.2 L622.3 145.3 L625.1 131.8 L622.3 125 Z" stroke="#000" stroke-width="2.0" fill="#fff" stroke-linejoin="round" stroke-linecap="round" /><path d="M618.4 123.1 L636.2 129.4 L643 122.7" stroke="#000" stroke-width="1.8" fill="none" stroke-linejoin="round" stroke-linecap="round" /><path d="M636.2 129.4 L636.6 150.2" stroke="#000" stroke-width="1.8" fill="none" stroke-linejoin="round" stroke-linecap="round" /><path d="M618.4 123.1 L622.7 126.6 L625 133.4 L622.3 145.3 L636.6 150.2" stroke="#000" stroke-width="3.0" fill="none" stroke-linejoin="round" stroke-linecap="round" /><path d="M626.7 131.8 L631.1 136.2" stroke="#000" stroke-width="1.2" fill="none" stroke-linejoin="round" stroke-linecap="round" /><path d="M637.8 130.6 L642.6 127.8" stroke="#000" stroke-width="2.6" fill="none" stroke-linejoin="round" stroke-linecap="round" /><path d="M642.2 131.8 L644.9 132.6 L644.9 137.3 L642.6 138.1" stroke="#000" stroke-width="1.6" fill="none" stroke-linejoin="round" stroke-linecap="round" />
<path d="M645.7 131.6 L652.4 126.2 L676.1 132.9 L675.7 160.8 L667.4 170.9 L664 171.8 L662.4 169.3 L659 172.6 L647.4 167.6 L645.7 165.1 L642.4 164.3 L644 147.5 Z" stroke="#000" stroke-width="2.0" fill="#fff" stroke-linejoin="round" stroke-linecap="round" /><path d="M645.7 131.6 L669 138.7 L676.1 132.9" stroke="#000" stroke-width="1.7" fill="none" stroke-linejoin="round" stroke-linecap="round" /><path d="M669 138.7 L665.7 154.1 L662.4 169.3" stroke="#000" stroke-width="1.8" fill="none" stroke-linejoin="round" stroke-linecap="round" /><path d="M666.5 146.6 L674 142.5 L674.4 160.8 L665.7 166.8 Z" stroke="#000" stroke-width="1.6" fill="#222" stroke-linejoin="round" stroke-linecap="round" /><path d="M668.4 146 L667.7 165" stroke="#fff" stroke-width="1.0" fill="none" stroke-linejoin="round" stroke-linecap="round" /><path d="M670.7 144.7 L670 163.3" stroke="#fff" stroke-width="1.0" fill="none" stroke-linejoin="round" stroke-linecap="round" /><path d="M672.7 143.6 L672 161.9" stroke="#fff" stroke-width="1.0" fill="none" stroke-linejoin="round" stroke-linecap="round" /><path d="M642.4 164.3 L645.7 161.6 L647.4 167.6" stroke="#000" stroke-width="1.2" fill="none" stroke-linejoin="round" stroke-linecap="round" />
<path d="M653 170.2 C645 168.5 632 168.5 628.5 171.5 C625.5 175 634 182 631 185.5 C627 188.5 612 180.5 605.4 177" stroke="#000" stroke-width="1.1" fill="none" stroke-linejoin="round" stroke-linecap="round" />
<path d="M604 176.5 C608 182 613 187.5 620 191 C627 194.5 634 195.5 640.5 194 C648 192 654.5 190.5 656 186 C657.5 181 657 176.5 657.5 172.5" stroke="#ff1a1a" stroke-width="1.2" fill="none" stroke-linejoin="round" stroke-linecap="round" />
<path d="M651.8 171.3 C651.5 176 651.5 182 649.5 186 C646.5 191 640 192.5 638 196 C636.5 200 639 204 642 207 C644 209 645.5 210 646.2 211.5" stroke="#ff1a1a" stroke-width="1.4" fill="none" stroke-linejoin="round" stroke-linecap="round" />
<path d="M654.5 172 C655.5 178 655 184 652 188 C648.5 191.5 641 193 638.5 195" stroke="#ff1a1a" stroke-width="1.1" fill="none" stroke-linejoin="round" stroke-linecap="round" />
<path d="M660.9 173.6 C663 178 667 182.5 666.3 186.5 C665 191 659.5 192 657.5 196 C655.5 202 655 211 654 217.8" stroke="#000" stroke-width="1.8" fill="none" stroke-linejoin="round" stroke-linecap="round" />
<path d="M662 175.9 C667 178.5 675 181.5 680.5 180.2 C687 178 690 170 694 163 C698 155.5 702 149.5 708 145 C715 140.5 726 137 734.5 133.5" stroke="#ff1a1a" stroke-width="1.2" fill="none" stroke-linejoin="round" stroke-linecap="round" />
<path d="M659.7 172.5 C668 176 678 179.5 687 181.5 C695 183.5 704 186.5 707.5 184.5 C711.5 181.5 710.5 174 712 167.5 C713 160.5 714 155 717.5 151 C722 146 729 141 734.5 137.4" stroke="#000" stroke-width="1.1" fill="none" stroke-linejoin="round" stroke-linecap="round" />
<g transform="translate(596 165.5) rotate(-38)"><rect x="-1.9" y="-1" width="3.8" height="9.5" fill="#111" stroke="#000" stroke-width="1"/><rect x="-1.5" y="8" width="3" height="6.5" fill="#111" stroke="#000" stroke-width="0.8"/><ellipse cx="0" cy="-3" rx="2.3" ry="3" fill="#fff" stroke="#000" stroke-width="1.4"/></g>
<path d="M634.6 210.6 L646.8 213.4 L645.6 225.6 L633.6 222.6 Z" stroke="#000" stroke-width="1.5" fill="#fff" stroke-linejoin="round" stroke-linecap="round" />
<path d="M647 212.5 L648.5 213 L647.6 226 L645.6 225.6" stroke="#000" stroke-width="1.3" fill="none" stroke-linejoin="round" stroke-linecap="round" />
<path d="M650.5 207 L650 219.5 M653.8 208 L653.4 220.5" stroke="#000" stroke-width="1.6" fill="none" stroke-linejoin="round" stroke-linecap="round" />
<path d="M735.3 123.8 L746 117.1 L752 116.3 L755.3 151.3 L749.5 158.3 L739 158.8 Z" stroke="#000" stroke-width="1.8" fill="#fff" stroke-linejoin="round" stroke-linecap="round" /><path d="M735.3 123.8 L739 158.8" stroke="#000" stroke-width="3.0" fill="none" stroke-linejoin="round" stroke-linecap="round" /><path d="M735.3 123.8 L741 123.3 L752 116.3" stroke="#000" stroke-width="1.3" fill="none" stroke-linejoin="round" stroke-linecap="round" /><path d="M741 123.3 L744 158.3" stroke="#000" stroke-width="1.5" fill="none" stroke-linejoin="round" stroke-linecap="round" /><path d="M744.3 127.3 L750 123.8 L751.5 142.8 L745.7 146.8 Z" stroke="#000" stroke-width="1.3" fill="none" stroke-linejoin="round" stroke-linecap="round" /><circle cx="750.8" cy="150.3" r="2.3" fill="#333" stroke="#000" stroke-width="1.2"/>
<path d="M836.8 428 L847.5 421.3 L853.5 420.5 L856.8 455.5 L851 462.5 L840.5 463 Z" stroke="#000" stroke-width="1.8" fill="#fff" stroke-linejoin="round" stroke-linecap="round" /><path d="M836.8 428 L840.5 463" stroke="#000" stroke-width="3.0" fill="none" stroke-linejoin="round" stroke-linecap="round" /><path d="M836.8 428 L842.5 427.5 L853.5 420.5" stroke="#000" stroke-width="1.3" fill="none" stroke-linejoin="round" stroke-linecap="round" /><path d="M842.5 427.5 L845.5 462.5" stroke="#000" stroke-width="1.5" fill="none" stroke-linejoin="round" stroke-linecap="round" /><path d="M845.8 431.5 L851.5 428 L853 447 L847.2 451 Z" stroke="#000" stroke-width="1.3" fill="none" stroke-linejoin="round" stroke-linecap="round" /><circle cx="852.3" cy="454.5" r="2.3" fill="#333" stroke="#000" stroke-width="1.2"/>
<path d="M217 481.5 L224 480 L230.6 483.6 L223.5 485.6 Z" stroke="#000" stroke-width="1.2" fill="#444" stroke-linejoin="round" stroke-linecap="round" />
<path d="M220 483.5 L228 484.5" stroke="#fff" stroke-width="0.8" fill="none" stroke-linejoin="round" stroke-linecap="round" />
<path d="M163.2 512.5 L155.6 519 A2.6 5.4 -38 0 0 162.2 527.6 L169.8 521.1 Z" stroke="#000" stroke-width="1.6" fill="#fff" stroke-linejoin="round" stroke-linecap="round" /><ellipse cx="0" cy="0" rx="2.6" ry="5.4" transform="translate(166.5 516.8) rotate(-38)" stroke="#000" stroke-width="1.6" fill="#fff"/>
<path d="M155 519.5 L160 524.5 M156.5 517.5 L162 523 M158.5 516.5 L163 521" stroke="#000" stroke-width="1.6" fill="none" stroke-linejoin="round" stroke-linecap="round" />
<path d="M123 545.5 L133 540.6 L136 542.6 L136.2 546.5 L126.5 552 Z" stroke="#000" stroke-width="1.4" fill="#fff" stroke-linejoin="round" stroke-linecap="round" />
<path d="M133 540.6 C131.5 542.5 132 545.5 134 547.5" stroke="#000" stroke-width="1.0" fill="none" stroke-linejoin="round" stroke-linecap="round" />
<path d="M63 587.5 C75 577 92 565 101.5 558.5 C98 551 103 544.5 111 543.5 C120 543 128 551 130 561.5 C131 570 126 576 120.5 573.5 C115.5 579 110 584 104.7 587.7 C96 594.5 88 601.5 80.5 607.5 Z" stroke="#000" stroke-width="1.7" fill="#fff" stroke-linejoin="round" stroke-linecap="round" />
<path d="M108 545 C116 547.5 123.5 557 124.5 568 C124.5 571.5 122.5 573.8 120.5 573.5" stroke="#000" stroke-width="1.3" fill="none" stroke-linejoin="round" stroke-linecap="round" />
<ellipse cx="0" cy="0" rx="12.6" ry="11.6" transform="translate(71.9 597) rotate(-30)" stroke="#000" stroke-width="1.9" fill="#fff"/>
<ellipse cx="0" cy="0" rx="9.8" ry="8.8" transform="translate(72.2 597.2) rotate(-30)" stroke="#000" stroke-width="1.5" fill="none"/>
<path d="M214 556.6 L235.5 537.6 L252 543.4 L252 546.6 L231 564.4 L221.5 562.2 Z" stroke="#000" stroke-width="2.0" fill="#fff" stroke-linejoin="round" stroke-linecap="round" />
<path d="M219.5 556.2 L236 541.6 L247.5 545.6 L230.5 560 Z" stroke="#000" stroke-width="1.3" fill="none" stroke-linejoin="round" stroke-linecap="round" />
<path d="M214.5 558.8 L222 561 L231 562.4 L251.5 545.2" stroke="#000" stroke-width="2.2" fill="none" stroke-linejoin="round" stroke-linecap="round" />
<path d="M227 549.5 L238.5 553.5 M232.5 545 L243.5 549 M229.5 554.5 L233.5 551 M237 548.5 L240.5 545.5 M223 554.5 L227.5 556.5" stroke="#000" stroke-width="1.5" fill="none" stroke-linejoin="round" stroke-linecap="round" />
<path d="M277.3 518.1 C277.3 518.1 272.9 535.4 273.3 541.1 C273.7 546.8 278 542.3 279.6 549 C281.3 555.7 281.6 569.7 282.5 577.6 C283.4 585.4 284.9 588.1 284.4 591.8 C283.9 595.6 279.6 598.2 279.6 598.2 C279.6 598.2 262.2 596.6 262.2 596.6 C262.2 596.6 256.4 598.9 254.3 602.9 C252.1 607 250.5 613.8 250.3 618.8 C250.2 623.7 243.7 624.7 253.5 629.9 C263.2 635.1 292.5 644.1 303.4 647.3 C314.3 650.5 308 649.1 312.9 647.3 C317.9 645.6 326.8 641.3 330.4 637.8 C333.9 634.3 333.3 633.5 332.3 628.3 C331.3 623.1 325.9 615.7 324.8 609.3 C323.8 602.9 326.8 601.3 326.4 593.4 C326 585.6 324.1 576.6 322.4 566.5 C320.8 556.3 318.8 545.9 317.4 537.9 C315.9 529.9 314.5 522.9 314.5 522.9 C314.5 522.9 277.3 518.1 277.3 518.1 Z" stroke="#000" stroke-width="2.1" fill="#fff" stroke-linejoin="round" stroke-linecap="round" />
<path d="M267.7 599.3 C267.7 599.3 261.4 607 259.8 610.9 C258.2 614.8 258.2 622.8 258.2 622.8 C258.2 622.8 295.5 636.5 295.5 636.5 C295.5 636.5 299.6 634.2 300.6 631.5 C301.5 628.8 302.6 623.3 301.2 620.4 C299.8 617.5 295.6 616.7 292.3 614 C289 611.4 283.7 606.9 281.5 604.5 C279.4 602.1 279.6 599.8 279.6 599.8 C279.6 599.8 267.7 599.3 267.7 599.3 Z" stroke="#000" stroke-width="1.9" fill="none" stroke-linejoin="round" stroke-linecap="round" />
<path d="M281.2 550.6 L278.8 561.7 L281.5 576 L284.9 584.7 C 289 580 291 560 285.5 550.5 Z" stroke="#000" stroke-width="1.4" fill="none" stroke-linejoin="round" stroke-linecap="round" />
<path d="M306.6 532.9 C304.6 534.2 294.7 541.1 294.7 541.1 C294.7 541.1 297.7 554.8 297.9 561.7 C298 568.6 296.7 577 295.5 582.3 C294.3 587.6 292.3 591.8 290.4 593.4 C288.6 595 285.4 592.1 284.4 591.8" stroke="#000" stroke-width="2.0" fill="none" stroke-linejoin="round" stroke-linecap="round" />
<path d="M310.6 535.5 C308.6 536.9 299 544 299 544 C299 544 302.1 555.3 302.2 561.7 C302.2 568.1 300.1 578.1 299.5 582.3 C298.8 586.6 298.3 587.1 298.3 587.1 C298.3 587.1 319.1 579.8 323.2 578.4" stroke="#000" stroke-width="1.7" fill="none" stroke-linejoin="round" stroke-linecap="round" />
<path d="M323.7 584.7 C319.6 586.2 299 593.4 299 593.4 C299 593.4 304.8 600.7 306.6 606.1 C308.4 611.5 309.8 625.9 309.8 625.9 C309.8 625.9 323.6 617.3 326.4 615.6" stroke="#000" stroke-width="1.9" fill="none" stroke-linejoin="round" stroke-linecap="round" />
<path d="M257 450.3 C257 450.3 267.7 452.8 271.5 454.3 C275.3 455.7 279.5 458.4 282.3 459.8 C285.2 461.2 290.6 463.8 290.6 463.8 C290.6 463.8 288.3 469.3 288.3 469.3 C288.3 469.3 304.7 477 309.3 478.1 C313.8 479.1 315.7 475.8 318.8 476.5 C321.8 477.1 329.6 482.2 329.6 482.2 C329.6 482.2 356.8 501 356.8 501 C356.8 501 359.4 503.7 359.4 503.7 C359.4 503.7 356.8 509.8 356.8 509.8 C356.8 509.8 352.4 511.7 352.4 511.7 C352.4 511.7 356.8 539.6 356.8 539.6 C356.8 539.6 361.3 539.8 361.6 540.5 C361.9 541.3 358.7 544.6 358.7 544.6 C358.7 544.6 350.5 543.1 350.5 543.1 C350.5 543.1 309.3 532 309.3 532 C309.3 532 299.8 528.8 299.8 528.8 C299.8 528.8 294.3 525.5 290.3 524 C286.2 522.6 272.8 519.3 272.8 519.3 C272.8 519.3 255.4 506.6 255.4 506.6 C255.4 506.6 244.5 506.2 241.9 505 C239.3 503.8 238.8 501.3 238.2 498.7 C237.7 496 236.9 491.6 237.9 487.6 C239 483.5 242.2 477.3 245.1 471.7 C247.9 466.1 257 450.3 257 450.3 Z" stroke="#000" stroke-width="2.2" fill="#fff" stroke-linejoin="round" stroke-linecap="round" />
<circle cx="244.5" cy="511.5" r="6.2" fill="#fff" stroke="#000" stroke-width="2.1"/><circle cx="245.5" cy="512" r="3.2" fill="none" stroke="#000" stroke-width="1.4"/>
<path d="M245.1 471.7 L310.1 494.7 L350.5 509.8 L356.8 509.8" stroke="#000" stroke-width="2.2" fill="none" stroke-linejoin="round" stroke-linecap="round" />
<path d="M247.4 475.7 L309.3 497.9 L347.3 511.7" stroke="#000" stroke-width="1.3" fill="none" stroke-linejoin="round" stroke-linecap="round" />
<path d="M266.5 455.1 C267.1 457.6 267.3 465.9 270.4 470.1 C273.6 474.4 278.9 476.3 285.5 480.4 C292.1 484.5 306 492.3 310.1 494.7" stroke="#000" stroke-width="1.6" fill="none" stroke-linejoin="round" stroke-linecap="round" />
<path d="M271.5 454.3 C272.5 454.8 275.4 455.6 277.6 457.4 C279.8 459.3 282.9 463.4 284.7 465.4 C286.5 467.4 287.7 468.7 288.3 469.3" stroke="#000" stroke-width="1.6" fill="none" stroke-linejoin="round" stroke-linecap="round" />
<path d="M284.7 465.4 L290.6 463.8" stroke="#000" stroke-width="1.4" fill="none" stroke-linejoin="round" stroke-linecap="round" />
<path d="M288.3 469.3 L309.3 481.5 L316.9 479.3 L326.7 484.4 L329.6 482.2" stroke="#000" stroke-width="1.5" fill="none" stroke-linejoin="round" stroke-linecap="round" />
<path d="M326.7 484.4 L313.2 493.1" stroke="#000" stroke-width="1.7" fill="none" stroke-linejoin="round" stroke-linecap="round" />
<path d="M356.8 501 L351.3 509.8 L352.4 511.7" stroke="#000" stroke-width="1.5" fill="none" stroke-linejoin="round" stroke-linecap="round" />
<path d="M331.5 505.8 L331.5 509.1 L348.9 514.5" stroke="#000" stroke-width="1.5" fill="none" stroke-linejoin="round" stroke-linecap="round" />
<path d="M257 450.3 C257.6 452 258.4 456.8 260.9 460.6 C263.4 464.4 270.2 471.2 272 473.3" stroke="#000" stroke-width="1.3" fill="none" stroke-linejoin="round" stroke-linecap="round" />
<path d="M248.7 502.6 C248.7 502.6 262 490.6 264.1 489.2 C266.2 487.7 265.6 486.6 269.6 488.4 C273.7 490.1 300.9 504.3 304.5 506.6 C308.1 508.8 306.7 509.4 305.5 510.9 C304.3 512.4 294.4 520.9 292.6 521.8 C290.8 522.7 287.4 520.2 287.4 520.2 C287.4 520.2 248.7 502.6 248.7 502.6 Z" stroke="#000" stroke-width="2.8" fill="none" stroke-linejoin="round" stroke-linecap="round" />
<path d="M255.7 503.4 L267.4 493.3 L299.8 509.1 L289 518.3 Z" stroke="#000" stroke-width="1.4" fill="none" stroke-linejoin="round" stroke-linecap="round" />
<path d="M307.7 515.1 L346.6 517.6 L348.9 513.6 L353.4 511.3 L357.5 540.3 L362.5 541.2 L357.5 544.4 L338.9 544.6 L306.3 530.5 Z" stroke="#000" stroke-width="1.4" fill="#111" stroke-linejoin="round" stroke-linecap="round" />
<path d="M314 517.2 L316.4 517.2 L319.5 530.5 L317.2 530.5 Z" stroke="#fff" stroke-width="0.4" fill="#fff" stroke-linejoin="round" stroke-linecap="round" />
<path d="M321.7 517.8 L323.9 517.8 L327.3 533.5 L325.1 533.5 Z" stroke="#fff" stroke-width="0.4" fill="#fff" stroke-linejoin="round" stroke-linecap="round" />
<path d="M328.9 518.7 L330.8 518.7 L334.2 535.6 L332.4 535.6 Z" stroke="#fff" stroke-width="0.4" fill="#fff" stroke-linejoin="round" stroke-linecap="round" />
<path d="M335.5 519.3 L337 519.3 L339.7 537.8 L338.2 537.8 Z" stroke="#fff" stroke-width="0.4" fill="#fff" stroke-linejoin="round" stroke-linecap="round" />
<path d="M340.4 519.3 L341.5 519.3 L344.1 539 L342.9 539 Z" stroke="#fff" stroke-width="0.4" fill="#fff" stroke-linejoin="round" stroke-linecap="round" />
<path d="M345.4 518.4 L346.5 518.4 L350 540.7 L348.9 540.7 Z" stroke="#fff" stroke-width="0.4" fill="#fff" stroke-linejoin="round" stroke-linecap="round" />
<path d="M350.5 514.5 L351.6 514.5 L354.7 541.4 L353.6 541.4 Z" stroke="#fff" stroke-width="0.4" fill="#fff" stroke-linejoin="round" stroke-linecap="round" />
<path d="M290 498.6 L348.9 513.6" stroke="#000" stroke-width="2.6" fill="none" stroke-linejoin="round" stroke-linecap="round" />
<path d="M299.8 528.8 L293.1 522.8 L304.5 514.5 L308 515.5 Z" stroke="#000" stroke-width="1.8" fill="#fff" stroke-linejoin="round" stroke-linecap="round" />
<path d="M299.8 528.8 L308 515.5" stroke="#000" stroke-width="2.6" fill="none" stroke-linejoin="round" stroke-linecap="round" />
<path d="M375.5 574.5 L384.5 577 L384 588.5 L375 586 Z" stroke="#000" stroke-width="1.4" fill="#fff" stroke-linejoin="round" stroke-linecap="round" />
<path d="M368.6 581 L380.6 584 L380 595 L368 592 Z" stroke="#000" stroke-width="1.5" fill="#fff" stroke-linejoin="round" stroke-linecap="round" />
<path d="M386.6 577 L386.2 589.5 M389.8 576.4 L389.4 588" stroke="#000" stroke-width="1.5" fill="none" stroke-linejoin="round" stroke-linecap="round" />
<path d="M355.8 609 L367.5 599.2 L395.5 606.5 L394.8 612 L381 626.5 L372.5 624 L372 618.5 Z" stroke="#000" stroke-width="1.8" fill="#fff" stroke-linejoin="round" stroke-linecap="round" />
<path d="M360.5 609.2 L368.5 602.6 L390.5 608.5 L382 616 Z" stroke="#000" stroke-width="0.8" fill="#222" stroke-linejoin="round" stroke-linecap="round" />
<path d="M356 610.5 L382.5 619 L394.8 608.5" stroke="#000" stroke-width="2.0" fill="none" stroke-linejoin="round" stroke-linecap="round" />
<path d="M366.5 618.5 L373 620.5 L372.5 627.5 L366 625.5 Z" stroke="#000" stroke-width="1.4" fill="#fff" stroke-linejoin="round" stroke-linecap="round" />
<path d="M373 620.5 L377 617.5 M372.5 627.5 L376.5 624.5 L377 617.5" stroke="#000" stroke-width="1.2" fill="none" stroke-linejoin="round" stroke-linecap="round" />
<path d="M89.7 617.5 C89.7 617.5 117.1 621.2 117.1 621.2 C117.1 621.2 119.6 624.9 119.6 624.9 C119.6 624.9 162 630.4 162 630.4 C162 630.4 164.5 628.7 164.5 628.7 C164.5 628.7 182.7 632.6 189.4 634.9 C196 637.2 200.2 639.1 204.3 642.4 C208.5 645.7 211.4 649.7 214.3 654.8 C217.2 660 220.5 668.1 221.8 673.5 C223 678.9 223 683.9 221.8 687.2 C220.5 690.6 214.3 693.5 214.3 693.5 C214.3 693.5 189.4 734.6 189.4 734.6 C189.4 734.6 149.5 779.4 149.5 779.4 C149.5 779.4 148.3 782.6 145.8 784.4 C143.3 786.1 142.7 788.1 134.6 789.9 C126.5 791.6 111.3 795.6 97.2 794.9 C83.1 794.1 61.1 789.2 49.9 785.6 C38.7 782 34.2 777.5 29.9 773.2 C25.7 768.8 25.7 767.2 24.5 759.5 C23.2 751.8 22.5 727.1 22.5 727.1 C22.5 727.1 23.3 724.2 27.5 715.9 C31.6 707.6 47.4 677.3 47.4 677.3 C47.4 677.3 89.7 617.5 89.7 617.5 Z" stroke="#000" stroke-width="2.1" fill="#fff" stroke-linejoin="round" stroke-linecap="round" />
<path d="M95.2 620.5 C88.1 630.4 62.7 664.1 52.4 680.3 C42 696.4 36.2 711.4 32.9 717.6" stroke="#000" stroke-width="1.2" fill="none" stroke-linejoin="round" stroke-linecap="round" />
<path d="M47.4 677.3 C47.4 677.3 50.4 680.6 52.9 680.3 C55.4 679.9 54.7 685 62.3 675.3 C69.9 665.6 98.5 622 98.5 622" stroke="#000" stroke-width="1.6" fill="none" stroke-linejoin="round" stroke-linecap="round" />
<path d="M62.3 675.3 C62.3 675.3 63.9 690.5 72.8 681.7 C81.7 673 115.9 623 115.9 623" stroke="#000" stroke-width="1.6" fill="none" stroke-linejoin="round" stroke-linecap="round" />
<path d="M74.8 682.7 C74.8 682.7 64.8 683.5 72.3 685.7 C79.8 688 105 705.2 119.6 696.4 C134.3 687.6 160.2 632.9 160.2 632.9" stroke="#000" stroke-width="1.6" fill="none" stroke-linejoin="round" stroke-linecap="round" />
<path d="M74.8 682.7 L117.6 625.4" stroke="#000" stroke-width="1.3" fill="none" stroke-linejoin="round" stroke-linecap="round" />
<path d="M124.6 630.9 L128.4 634.9 L153.3 638.6 L155 634.4 Z" stroke="#000" stroke-width="1.4" fill="none" stroke-linejoin="round" stroke-linecap="round" />
<path d="M162 630.4 C162 630.4 138.7 674.8 134.6 684.7 C130.5 694.7 135.6 688.3 137.6 690.2 C139.6 692.2 144.5 696 146.5 696.4 C148.5 696.9 142.4 702.8 149.5 692.7 C156.7 682.6 189.4 635.9 189.4 635.9" stroke="#000" stroke-width="1.7" fill="none" stroke-linejoin="round" stroke-linecap="round" />
<path d="M167 631.2 L140.8 684.7" stroke="#000" stroke-width="1.1" fill="none" stroke-linejoin="round" stroke-linecap="round" />
<path d="M94.2 659.3 L99.7 657.3 L132.1 662.8 L134.6 666.1" stroke="#000" stroke-width="1.5" fill="none" stroke-linejoin="round" stroke-linecap="round" />
<path d="M100.9 660.1 L102.4 656.1 L103.9 660.6" stroke="#000" stroke-width="1.2" fill="none" stroke-linejoin="round" stroke-linecap="round" />
<path d="M105.7 660.9 L107.2 656.9 L108.7 661.4" stroke="#000" stroke-width="1.2" fill="none" stroke-linejoin="round" stroke-linecap="round" />
<path d="M110.4 661.7 L111.9 657.7 L113.4 662.2" stroke="#000" stroke-width="1.2" fill="none" stroke-linejoin="round" stroke-linecap="round" />
<path d="M115.1 662.5 L116.6 658.5 L118.1 663" stroke="#000" stroke-width="1.2" fill="none" stroke-linejoin="round" stroke-linecap="round" />
<path d="M119.9 663.3 L121.4 659.3 L122.9 663.8" stroke="#000" stroke-width="1.2" fill="none" stroke-linejoin="round" stroke-linecap="round" />
<path d="M124.6 664.1 L126.1 660.1 L127.6 664.6" stroke="#000" stroke-width="1.2" fill="none" stroke-linejoin="round" stroke-linecap="round" />
<path d="M129.3 664.9 L130.8 660.9 L132.3 665.4" stroke="#000" stroke-width="1.2" fill="none" stroke-linejoin="round" stroke-linecap="round" />
<ellipse cx="109.2" cy="669" rx="10.5" ry="2.6" transform="rotate(8 109.2 669)" fill="#111"/>
<ellipse cx="103.7" cy="676.5" rx="10.5" ry="2.6" transform="rotate(8 103.7 676.5)" fill="#111"/>
<ellipse cx="98.2" cy="684.7" rx="10.5" ry="2.6" transform="rotate(8 98.2 684.7)" fill="#111"/>
<circle cx="98.5" cy="661.1" r="1.6" fill="#111"/>
<circle cx="122.6" cy="664.8" r="1.6" fill="#111"/>
<path d="M51.6 694.7 C51.6 694.7 121.4 706.4 121.4 706.4 C121.4 706.4 122.4 708.9 122.4 708.9 C122.4 708.9 117.8 716.6 113.4 718.9 C109 721.1 104.9 722.9 96 722.4 C87 721.9 67.9 718.3 59.6 715.9 C51.3 713.5 48.5 710.3 46.1 707.9 C43.8 705.5 44.5 703.9 45.4 701.7 C46.3 699.5 51.6 694.7 51.6 694.7 Z" stroke="#000" stroke-width="1.9" fill="none" stroke-linejoin="round" stroke-linecap="round" />
<path d="M56.4 696.9 C56.4 696.9 55.2 698.1 53.9 699.9 C52.6 701.8 47.7 705.5 48.6 707.9 C49.6 710.3 51.7 712.4 59.6 714.4 C67.5 716.3 86.7 720.4 96 719.6 C105.2 718.8 111.2 711.7 114.9 709.7 C118.6 707.6 117.8 707.8 118.4 707.4" stroke="#000" stroke-width="1.2" fill="none" stroke-linejoin="round" stroke-linecap="round" />
<ellipse cx="70.3" cy="711.9" rx="4.2" ry="2.8" transform="rotate(8 70.3 711.9)" fill="#fff" stroke="#000" stroke-width="1.3"/>
<ellipse cx="90.5" cy="715.6" rx="4.2" ry="2.8" transform="rotate(8 90.5 715.6)" fill="#fff" stroke="#000" stroke-width="1.3"/>
<path d="M28 716.6 C29.4 717.5 33 720.1 36.9 721.6 C40.9 723.1 42.6 724 51.6 725.6 C60.7 727.2 80.6 730.5 91.2 731.1 C101.8 731.6 108 730.6 115.1 728.8 C122.3 727.1 129.8 723.6 134.1 720.6 C138.3 717.7 138.6 715 140.6 711.1 C142.5 707.2 144.9 699.5 145.8 697.2" stroke="#000" stroke-width="1.7" fill="none" stroke-linejoin="round" stroke-linecap="round" />
<path d="M24 723.4 C25.5 724.1 29 726.6 32.9 728.1 C36.8 729.5 45 731.4 47.4 732.1" stroke="#000" stroke-width="1.2" fill="none" stroke-linejoin="round" stroke-linecap="round" />
<path d="M118.4 733.8 C121.5 732.7 132.7 729.9 137.1 727.1 C141.4 724.3 143.3 718.8 144.5 717.1" stroke="#000" stroke-width="1.2" fill="none" stroke-linejoin="round" stroke-linecap="round" />
<path d="M22.5 727.1 C23.7 728.8 26 733.9 29.9 737.1 C33.9 740.2 42.3 744 46.1 745.8 C50 747.5 52.9 747.5 52.9 747.5 C52.9 747.5 54.1 730.5 54.4 727.1" stroke="#000" stroke-width="1.8" fill="none" stroke-linejoin="round" stroke-linecap="round" />
<path d="M85.3 732.6 C85.3 732.6 85.6 748.8 87.2 752.5 C88.9 756.2 95.2 755 95.2 755 C95.2 755 127.2 747.7 135.1 744.5 C143 741.3 141.3 737.3 142.6 735.8" stroke="#000" stroke-width="1.8" fill="none" stroke-linejoin="round" stroke-linecap="round" />
<path d="M24.5 759.5 C28.3 762.1 35.3 771.1 47.4 774.9 C59.5 778.7 80.8 783.3 97.2 782.4 C113.6 781.5 137.7 771.6 145.8 769.4" stroke="#000" stroke-width="1.3" fill="none" stroke-linejoin="round" stroke-linecap="round" />
<path d="M45.4 745.8 L47.9 784.9" stroke="#000" stroke-width="1.2" fill="none" stroke-linejoin="round" stroke-linecap="round" />
<path d="M94.7 755 L97.7 794.9" stroke="#000" stroke-width="1.2" fill="none" stroke-linejoin="round" stroke-linecap="round" />
<path d="M140.8 713.4 L144.5 727.1 L200.6 657.3 L204.3 642.4" stroke="#000" stroke-width="1.3" fill="none" stroke-linejoin="round" stroke-linecap="round" />
<path d="M145.3 758.5 L144.8 732.1 L146 729.6 L147.3 731.6 L148.3 756.5" stroke="#000" stroke-width="1.6" fill="none" stroke-linejoin="round" stroke-linecap="round" />
<path d="M150.2 753 L149.7 725.8 L151 723.3 L152.2 725.3 L153.2 751.1" stroke="#000" stroke-width="1.6" fill="none" stroke-linejoin="round" stroke-linecap="round" />
<path d="M155.1 747.6 L154.6 719.5 L155.9 717 L157.1 719 L158.1 745.6" stroke="#000" stroke-width="1.6" fill="none" stroke-linejoin="round" stroke-linecap="round" />
<path d="M160 742.2 L159.5 713.2 L160.8 710.7 L162 712.7 L163 740.2" stroke="#000" stroke-width="1.6" fill="none" stroke-linejoin="round" stroke-linecap="round" />
<path d="M165 736.7 L164.5 706.9 L165.7 704.4 L166.9 706.4 L167.9 734.7" stroke="#000" stroke-width="1.6" fill="none" stroke-linejoin="round" stroke-linecap="round" />
<path d="M169.9 731.3 L169.4 700.6 L170.6 698.1 L171.9 700.1 L172.9 729.3" stroke="#000" stroke-width="1.6" fill="none" stroke-linejoin="round" stroke-linecap="round" />
<path d="M174.8 725.9 L174.3 694.3 L175.5 691.8 L176.8 693.8 L177.8 723.9" stroke="#000" stroke-width="1.6" fill="none" stroke-linejoin="round" stroke-linecap="round" />
<path d="M179.7 720.4 L179.2 688 L180.4 685.5 L181.7 687.5 L182.7 718.4" stroke="#000" stroke-width="1.6" fill="none" stroke-linejoin="round" stroke-linecap="round" />
<path d="M184.6 715 L184.1 681.7 L185.4 679.2 L186.6 681.2 L187.6 713" stroke="#000" stroke-width="1.6" fill="none" stroke-linejoin="round" stroke-linecap="round" />
<path d="M189.5 709.6 L189 675.4 L190.3 672.9 L191.5 674.9 L192.5 707.6" stroke="#000" stroke-width="1.6" fill="none" stroke-linejoin="round" stroke-linecap="round" />
<path d="M194.4 704.1 L193.9 669.1 L195.2 666.6 L196.4 668.6 L197.4 702.1" stroke="#000" stroke-width="1.6" fill="none" stroke-linejoin="round" stroke-linecap="round" />
<path d="M199.4 698.7 L198.9 662.8 L200.1 660.3 L201.3 662.3 L202.3 696.7" stroke="#000" stroke-width="1.6" fill="none" stroke-linejoin="round" stroke-linecap="round" />
<path d="M149 774.4 L149.5 770.9" stroke="#000" stroke-width="2.1" fill="none" stroke-linejoin="round" stroke-linecap="round" />
<path d="M153.1 769.4 L153.6 766" stroke="#000" stroke-width="2.1" fill="none" stroke-linejoin="round" stroke-linecap="round" />
<path d="M157.2 764.5 L157.7 761" stroke="#000" stroke-width="2.1" fill="none" stroke-linejoin="round" stroke-linecap="round" />
<path d="M161.3 759.5 L161.8 756" stroke="#000" stroke-width="2.1" fill="none" stroke-linejoin="round" stroke-linecap="round" />
<path d="M165.4 754.5 L165.9 751" stroke="#000" stroke-width="2.1" fill="none" stroke-linejoin="round" stroke-linecap="round" />
<path d="M169.5 749.5 L170 746" stroke="#000" stroke-width="2.1" fill="none" stroke-linejoin="round" stroke-linecap="round" />
<path d="M173.6 744.5 L174.1 741" stroke="#000" stroke-width="2.1" fill="none" stroke-linejoin="round" stroke-linecap="round" />
<path d="M177.7 739.5 L178.2 736.1" stroke="#000" stroke-width="2.1" fill="none" stroke-linejoin="round" stroke-linecap="round" />
<path d="M181.8 734.6 L182.3 731.1" stroke="#000" stroke-width="2.1" fill="none" stroke-linejoin="round" stroke-linecap="round" />
<path d="M185.9 729.6 L186.4 726.1" stroke="#000" stroke-width="2.1" fill="none" stroke-linejoin="round" stroke-linecap="round" />
<path d="M190 724.6 L190.5 721.1" stroke="#000" stroke-width="2.1" fill="none" stroke-linejoin="round" stroke-linecap="round" />
<path d="M194.1 719.6 L194.6 716.1" stroke="#000" stroke-width="2.1" fill="none" stroke-linejoin="round" stroke-linecap="round" />
<path d="M198.2 714.6 L198.7 711.1" stroke="#000" stroke-width="2.1" fill="none" stroke-linejoin="round" stroke-linecap="round" />
<path d="M202.3 709.7 L202.8 706.2" stroke="#000" stroke-width="2.1" fill="none" stroke-linejoin="round" stroke-linecap="round" />
<path d="M221.8 673.5 C220.5 674.6 217.2 675.9 214.3 680.3 C211.4 684.6 206 696.4 204.3 699.7" stroke="#000" stroke-width="1.1" fill="none" stroke-linejoin="round" stroke-linecap="round" />
<path d="M423.2 646.6 C424.3 642.3 425.4 638.5 428.6 634.4 C431.8 630.3 437 626 442.2 622.2 C447.4 618.3 453.7 614.1 459.8 611.3 C466 608.5 472.8 606 478.9 605.2 C485 604.4 490.9 605.5 496.5 606.6 C502.2 607.6 508.5 609.2 512.9 611.3 C517.2 613.5 520.5 617.5 522.4 619.5 C524.2 621.5 523.9 623.3 523.9 623.3 C523.9 623.3 562.2 641.7 562.2 641.7 C562.2 641.7 587 651.1 593.1 654.2 C599.2 657.3 598 657.6 599 660.1 C600 662.5 599.8 663.5 599.3 668.9 C598.8 674.3 597.3 685.6 596 692.5 C594.8 699.3 595.3 704.5 591.6 710.1 C587.9 715.8 581.1 722.7 573.9 726.3 C566.8 730 556 731 548.9 732.2 C541.8 733.5 535.5 734.4 531.2 734 C526.9 733.6 525.1 730.7 523.1 729.6 C521.2 728.5 519.6 727.5 519.6 727.5 C519.6 727.5 459.6 701.2 444.9 694.6 C430.1 688 434.2 690.3 431 688 C427.8 685.7 427 685.6 425.5 681 C424 676.4 422.2 666 421.8 660.2 C421.4 654.5 422 650.9 423.2 646.6 Z" stroke="#000" stroke-width="2.1" fill="#fff" stroke-linejoin="round" stroke-linecap="round" />
<path d="M442.9 621.9 C442.9 621.9 455 613.5 459.8 611.3 C464.7 609.1 474 605.9 478.9 605.3 C483.8 604.7 492.2 605.9 496.5 606.7 C500.9 607.4 511.5 611 511.5 611 C511.5 611 500.3 609.1 496.5 609.7 C492.7 610.3 486.2 613.6 483 615.4 C479.7 617.1 474.8 621 472.1 622.9 C469.4 624.7 462.6 629 462.6 629 C462.6 629 457.6 626.7 455.8 626 C454 625.3 450.7 624.4 449 623.8 C447.3 623.3 442.9 621.9 442.9 621.9 Z" stroke="#000" stroke-width="1.0" fill="#111" stroke-linejoin="round" stroke-linecap="round" />
<path d="M491.1 612.4 C488.6 613.8 480.6 617.4 476.2 620.8 C471.7 624.3 467.4 628.5 464.6 633.1 C461.8 637.6 460.6 643.2 459.6 648 C458.5 652.8 458.4 659.6 458.2 661.9" stroke="#000" stroke-width="3.4" fill="none" stroke-linejoin="round" stroke-linecap="round" />
<path d="M496.5 615.4 C493.6 617.2 483.6 622.4 478.9 626.3 C474.1 630.1 470.6 634.2 468 638.5 C465.4 642.8 464.1 648.2 463.2 652.1 C462.4 656 462.9 660.2 462.8 661.9" stroke="#000" stroke-width="1.5" fill="none" stroke-linejoin="round" stroke-linecap="round" />
<path d="M455.8 626 C453.5 627.6 445.6 631.4 442.2 635.8 C438.8 640.1 436.5 649.4 435.4 652.1" stroke="#000" stroke-width="1.3" fill="none" stroke-linejoin="round" stroke-linecap="round" />
<path d="M484.3 617.4 L487 626.9" stroke="#000" stroke-width="1.3" fill="none" stroke-linejoin="round" stroke-linecap="round" />
<path d="M462.8 629 L467.3 626" stroke="#fff" stroke-width="1.2" fill="none" stroke-linejoin="round" stroke-linecap="round" />
<path d="M423.2 647.3 C425.2 648.1 431.5 650.2 435.4 652.1 C439.2 654 442.5 657.2 446.3 658.9 C450.1 660.5 456.2 661.4 458.2 661.9" stroke="#000" stroke-width="1.5" fill="none" stroke-linejoin="round" stroke-linecap="round" />
<path d="M422.5 653 L446.1 664.7 L471.5 681 L531.2 700.1 L544.8 700.9 L577.2 686.9 L597.8 673.6" stroke="#000" stroke-width="1.3" fill="none" stroke-linejoin="round" stroke-linecap="round" />
<path d="M446.8 659.9 L471.3 676.2 L529.7 694.6 L531.2 695.4 L546 696.9 L578.4 683.6 L596.3 669.6" stroke="#000" stroke-width="1.5" fill="none" stroke-linejoin="round" stroke-linecap="round" />
<path d="M531.2 695.4 L531.2 700.1" stroke="#000" stroke-width="1.2" fill="none" stroke-linejoin="round" stroke-linecap="round" />
<path d="M546 696.9 L544.8 700.9" stroke="#000" stroke-width="1.2" fill="none" stroke-linejoin="round" stroke-linecap="round" />
<path d="M446.1 660.5 L445.4 693.9" stroke="#000" stroke-width="1.3" fill="none" stroke-linejoin="round" stroke-linecap="round" />
<path d="M471.9 676.9 L472.2 705.4" stroke="#000" stroke-width="1.6" fill="none" stroke-linejoin="round" stroke-linecap="round" />
<path d="M577.2 679.2 C577 682.3 577 691.6 576.2 698 C575.4 704.4 573.1 714.2 572.5 717.5" stroke="#000" stroke-width="1.2" fill="none" stroke-linejoin="round" stroke-linecap="round" />
<path d="M424.5 649.4 L424.8 654.8" stroke="#000" stroke-width="1.0" fill="none" stroke-linejoin="round" stroke-linecap="round" />
<path d="M463 661.5 C463.3 661.6 465.1 662.6 465.1 662.6 C465.1 662.6 537.9 689.8 537.9 689.8 C537.9 689.8 563.1 680.9 569.5 678 C575.9 675.1 583.1 670.9 586 668.3 C588.9 665.7 591.1 660.4 591 658.2 C590.9 656 585.8 652.8 585 652" stroke="#000" stroke-width="2.0" fill="none" stroke-linejoin="round" stroke-linecap="round" />
<path d="M467.2 659.2 C476.7 662.9 538.5 687 538.5 687 C538.5 687 561.1 678.3 567 675.5 C572.9 672.7 580.2 668.4 583 666 C585.8 663.6 587.3 658.6 588 657.5" stroke="#000" stroke-width="1.2" fill="none" stroke-linejoin="round" stroke-linecap="round" />
<path d="M469.2 656.5 L475 652" stroke="#000" stroke-width="1.2" fill="none" stroke-linejoin="round" stroke-linecap="round" />
<path d="M548.2 664.8 L570.3 676.6" stroke="#000" stroke-width="1.1" fill="none" stroke-linejoin="round" stroke-linecap="round" />
<path d="M469.5 640.6 L505.5 618.9 L561.3 643.3 L565.3 646.3 L564.6 659.6 L555.1 656.9 L553.8 660.3 L541.5 667.8 L540.2 674.6 L531.4 671.9 L528 671.2 L474.9 648.8 Z" stroke="#000" stroke-width="2.2" fill="#fff" stroke-linejoin="round" stroke-linecap="round" />
<path d="M469.5 640.6 L530.7 662.4 L531.4 671.9" stroke="#000" stroke-width="3.0" fill="none" stroke-linejoin="round" stroke-linecap="round" />
<path d="M530.7 662.4 L541.5 667.8" stroke="#000" stroke-width="1.5" fill="none" stroke-linejoin="round" stroke-linecap="round" />
<path d="M561.3 643.6 L534.7 638.2 L513.7 650.4 L530.7 661.3" stroke="#000" stroke-width="2.8" fill="none" stroke-linejoin="round" stroke-linecap="round" />
<path d="M555.1 656.9 L554.5 648.8 L561.3 643.6" stroke="#000" stroke-width="1.6" fill="none" stroke-linejoin="round" stroke-linecap="round" />
<path d="M554.5 648.8 L536.8 644 L519.8 654.9" stroke="#000" stroke-width="1.6" fill="none" stroke-linejoin="round" stroke-linecap="round" />
<path d="M536.8 644 L535.4 639" stroke="#000" stroke-width="1.2" fill="none" stroke-linejoin="round" stroke-linecap="round" />
<path d="M553.8 660.3 L547 656.9 L525.2 654.9" stroke="#000" stroke-width="1.3" fill="none" stroke-linejoin="round" stroke-linecap="round" />
<path d="M480.4 636.5 L506.2 621.6 L513.7 628.4 L489.2 641.3 Z" stroke="#000" stroke-width="1.4" fill="none" stroke-linejoin="round" stroke-linecap="round" />
<path d="M504.8 635.9 L523.9 644" stroke="#000" stroke-width="1.1" fill="none" stroke-linejoin="round" stroke-linecap="round" />
<path d="M536.1 662.4 L536.8 673.2" stroke="#000" stroke-width="1.4" fill="none" stroke-linejoin="round" stroke-linecap="round" />
<circle cx="520.5" cy="651.2" r="0.8" fill="#fff"/>
<circle cx="523.5" cy="649.5" r="0.8" fill="#fff"/>
<circle cx="526.5" cy="647.7" r="0.8" fill="#fff"/>
<circle cx="529.4" cy="645.9" r="0.8" fill="#fff"/>
<circle cx="532.4" cy="644.2" r="0.8" fill="#fff"/>
<path d="M474.9 648.8 L473.6 654.2 L468.2 659.6" stroke="#000" stroke-width="1.3" fill="none" stroke-linejoin="round" stroke-linecap="round" />
<path d="M473.6 654.2 L523.9 674.6" stroke="#000" stroke-width="1.4" fill="none" stroke-linejoin="round" stroke-linecap="round" />
<path d="M548.3 663.7 L580 676" stroke="#000" stroke-width="1.1" fill="none" stroke-linejoin="round" stroke-linecap="round" />
<path d="M504.7 616.6 L523.9 624.7" stroke="#000" stroke-width="1.4" fill="none" stroke-linejoin="round" stroke-linecap="round" />
<path d="M441.4 693.2 L445.4 682.3" stroke="#000" stroke-width="2.4" fill="none" stroke-linejoin="round" stroke-linecap="round" />
<path d="M445.4 682.3 L510.7 700.7" stroke="#000" stroke-width="2.8" fill="none" stroke-linejoin="round" stroke-linecap="round" />
<path d="M510.7 700.7 C511.2 701.6 512.2 702 514 706.1 C515.8 710.2 519.9 721.2 521.5 725.1 C523.1 729 523.2 728.9 523.6 729.6" stroke="#000" stroke-width="1.5" fill="none" stroke-linejoin="round" stroke-linecap="round" />
<path d="M437 691 L441 680.5 L445.4 682.3" stroke="#000" stroke-width="1.3" fill="none" stroke-linejoin="round" stroke-linecap="round" />
<path d="M748.5 283.5 L739 291.5 L741 293.7 L750.5 285.7 Z" stroke="#000" stroke-width="1.1" fill="#fff" stroke-linejoin="round" stroke-linecap="round" /><ellipse cx="0" cy="0" rx="2.1" ry="2.8" transform="translate(749.5 284.6) rotate(139.9)" stroke="#000" stroke-width="1.1" fill="#222"/>
<path d="M720 301.5 L711.5 308.6 A2.8 5.6 -40 0 0 718.7 317.1 L727.2 310.1 Z" stroke="#000" stroke-width="1.6" fill="#fff" stroke-linejoin="round" stroke-linecap="round" /><ellipse cx="0" cy="0" rx="2.8" ry="5.6" transform="translate(723.6 305.8) rotate(-40)" stroke="#000" stroke-width="1.6" fill="#fff"/>
<path d="M711.5 309.5 L716 315 M713.5 308 L718.5 313.8 M715.5 306.5 L720 311.5" stroke="#000" stroke-width="1.7" fill="none" stroke-linejoin="round" stroke-linecap="round" />
<path d="M732.6 329.5 L725 336.1 L727 338.3 L734.6 331.7 Z" stroke="#000" stroke-width="1.1" fill="#fff" stroke-linejoin="round" stroke-linecap="round" /><ellipse cx="0" cy="0" rx="2" ry="2.5" transform="translate(733.6 330.6) rotate(139)" stroke="#000" stroke-width="1.1" fill="#222"/>
<path d="M804.4 364.9 L797.6 370.9 L799.6 373.1 L806.4 367.1 Z" stroke="#000" stroke-width="1.1" fill="#fff" stroke-linejoin="round" stroke-linecap="round" /><ellipse cx="0" cy="0" rx="2" ry="2.7" transform="translate(805.4 366) rotate(138.6)" stroke="#000" stroke-width="1.1" fill="#222"/>
<path d="M785 447.4 L777.8 453.4 L779.8 455.8 L787 449.8 Z" stroke="#000" stroke-width="1.1" fill="#fff" stroke-linejoin="round" stroke-linecap="round" /><ellipse cx="0" cy="0" rx="2" ry="2.6" transform="translate(786 448.6) rotate(140.2)" stroke="#000" stroke-width="1.1" fill="#222"/>
<path d="M792.6 500.9 L785 507.7 L787 509.9 L794.6 503.1 Z" stroke="#000" stroke-width="1.1" fill="#fff" stroke-linejoin="round" stroke-linecap="round" /><ellipse cx="0" cy="0" rx="2" ry="2.7" transform="translate(793.6 502) rotate(138.2)" stroke="#000" stroke-width="1.1" fill="#222"/>
<path d="M777.5 466.5 L781.5 464.2 L787.4 466.6 L786.4 470.8 L781 471.8 Z" stroke="#000" stroke-width="1.0" fill="#222" stroke-linejoin="round" stroke-linecap="round" />
<path d="M720.2 413.7 C720.2 413.7 719.3 428.6 718.3 432.7 C717.3 436.7 713.5 440.6 713.5 440.6 C713.5 440.6 718.3 444.5 719.1 448.5 C719.9 452.6 718.5 461.9 719.1 467.6 C719.7 473.3 722.7 482.3 723.1 486.6 C723.4 490.9 724.1 495.5 721.5 496.1 C718.9 496.7 705.6 490.6 705.6 490.6 C705.6 490.6 698.5 496.1 698.5 496.1 C698.5 496.1 697.1 499.6 697.7 501.2 C698.3 502.7 701 505.7 702.4 506.4 C703.9 507.1 702.9 504.2 707.2 505.6 C711.5 507 725 513.5 731 515.9 C736.9 518.3 743 519.2 746.8 521.5 C750.6 523.7 753.9 528.6 756.3 531 C758.8 533.4 761.5 536.5 763.5 537.6 C765.5 538.8 768 539.9 769.8 538.9 C771.7 537.9 774.5 533.6 775.7 531 C776.9 528.4 778.2 524 778.1 521.5 C777.9 519 776.6 516.1 774.7 514.2 C772.9 512.3 767.4 513.4 765.9 508.8 C764.3 504.2 764.9 490.1 764.3 483.4 C763.6 476.8 762.9 470.3 761.4 464.4 C760 458.4 756.5 449.5 754.8 443.8 C753 438.1 750.6 430.9 749.7 426.3 C748.7 421.8 748.4 413.7 748.4 413.7 C748.4 413.7 720.2 413.7 720.2 413.7 Z" stroke="#000" stroke-width="2.2" fill="#fff" stroke-linejoin="round" stroke-linecap="round" />
<path d="M692.4 355.9 C692.4 355.9 694.1 352 695.6 351.1 C697.2 350.2 702.7 349.8 702.7 349.8 C702.7 349.8 800.3 398.7 800.3 398.7 C800.3 398.7 803.4 401.4 804.2 405 C805.1 408.6 806.1 417.5 806 422.4 C805.8 427.4 804.8 434.8 803.4 438.3 C802.1 441.8 799.2 445.3 797.1 445.8 C794.9 446.2 789.2 441.5 789.2 441.5 C789.2 441.5 778.1 444 778.1 444 C778.1 444 764.7 438.6 760.6 436.7 C756.6 434.8 754.4 432.4 751.1 431.2 C747.8 430 742 430.1 738.4 428.8 C734.9 427.5 730.4 424.6 727.3 422.4 C724.2 420.3 722.6 415.7 717.8 414.5 C713.1 413.3 700.6 415.2 695.6 414.5 C690.6 413.8 686.5 411.4 684.5 409.8 C682.5 408.1 682.4 405.8 682.1 403.4 C681.9 401 681.4 397.5 682.9 393.9 C684.5 390.3 690.3 384.6 692.4 379.6 C694.6 374.6 697.2 364.2 697.2 360.6 C697.2 357 692.4 355.9 692.4 355.9 Z" stroke="#000" stroke-width="2.2" fill="#fff" stroke-linejoin="round" stroke-linecap="round" />
<path d="M695.6 352.1 L702.7 350.8 L800.3 399.6" stroke="#000" stroke-width="5.460000000000001" fill="none" stroke-linejoin="round" stroke-linecap="round" />
<path d="M698.8 359.8 L749.5 382.8 L795.5 404.7" stroke="#000" stroke-width="3.3800000000000003" fill="none" stroke-linejoin="round" stroke-linecap="round" />
<path d="M697.2 360.6 L692.8 379.6 L683.7 393.9 L682.6 402.6" stroke="#000" stroke-width="4.42" fill="none" stroke-linejoin="round" stroke-linecap="round" />
<path d="M706.7 357.4 L703.5 379.6 L694 395.5" stroke="#000" stroke-width="3.12" fill="none" stroke-linejoin="round" stroke-linecap="round" />
<path d="M713.1 361.4 L710.7 386 L702.7 403.4 L698.8 413.7" stroke="#000" stroke-width="3.3800000000000003" fill="none" stroke-linejoin="round" stroke-linecap="round" />
<path d="M721 367 L719.4 387.6 L713.1 405" stroke="#000" stroke-width="2.8600000000000003" fill="none" stroke-linejoin="round" stroke-linecap="round" />
<path d="M701.2 360.6 L700.4 378.1" stroke="#000" stroke-width="2.6" fill="none" stroke-linejoin="round" stroke-linecap="round" />
<path d="M709.1 363.8 L707.5 379.6" stroke="#000" stroke-width="2.6" fill="none" stroke-linejoin="round" stroke-linecap="round" />
<path d="M698.8 360.6 L712.3 366.2 L710.7 381.2 L698.8 378.1 Z" stroke="#000" stroke-width="1" fill="#111" stroke-linejoin="round" stroke-linecap="round" />
<path d="M701.6 363.8 L701.3 376.8" stroke="#fff" stroke-width="2.08" fill="none" stroke-linejoin="round" stroke-linecap="round" />
<path d="M705.1 365.4 L704.6 378.1" stroke="#fff" stroke-width="2.08" fill="none" stroke-linejoin="round" stroke-linecap="round" />
<path d="M708.3 366.6 L707.8 379.3" stroke="#fff" stroke-width="1.8199999999999998" fill="none" stroke-linejoin="round" stroke-linecap="round" />
<circle cx="690.9" cy="405.8" r="7.2" fill="#111"/><circle cx="690.9" cy="405.8" r="3.6" fill="#fff"/>
<path d="M695.6 414.5 L703.5 408.2 L714.6 409.8 L719.4 414.5" stroke="#000" stroke-width="3.3800000000000003" fill="none" stroke-linejoin="round" stroke-linecap="round" />
<path d="M714.6 374.1 L743.2 387.6" stroke="#000" stroke-width="3.9000000000000004" fill="none" stroke-linejoin="round" stroke-linecap="round" />
<path d="M713.8 381.2 L741.6 394.7" stroke="#000" stroke-width="3.3800000000000003" fill="none" stroke-linejoin="round" stroke-linecap="round" />
<path d="M712.3 389.2 L740 402.6" stroke="#000" stroke-width="3.9000000000000004" fill="none" stroke-linejoin="round" stroke-linecap="round" />
<path d="M709.1 397.1 L735.3 409.8" stroke="#000" stroke-width="3.12" fill="none" stroke-linejoin="round" stroke-linecap="round" />
<path d="M727.3 371.7 L726.5 392.3" stroke="#000" stroke-width="3.12" fill="none" stroke-linejoin="round" stroke-linecap="round" />
<path d="M735.3 375.7 L734 397.1" stroke="#000" stroke-width="3.9000000000000004" fill="none" stroke-linejoin="round" stroke-linecap="round" />
<path d="M739.2 378.1 L738.1 392.3" stroke="#000" stroke-width="2.6" fill="none" stroke-linejoin="round" stroke-linecap="round" />
<path d="M751.1 382 L750.8 393.9 L744.8 406.6 L733.7 417.7" stroke="#000" stroke-width="3.9000000000000004" fill="none" stroke-linejoin="round" stroke-linecap="round" />
<path d="M746.3 379.6 L745.6 392.3 L740 405 L728.9 414.5" stroke="#000" stroke-width="2.08" fill="none" stroke-linejoin="round" stroke-linecap="round" />
<path d="M747.1 406.6 L764.6 390.7" stroke="#000" stroke-width="3.9000000000000004" fill="none" stroke-linejoin="round" stroke-linecap="round" />
<path d="M749.5 409.8 L763.8 414.5 L786 424" stroke="#000" stroke-width="2.8600000000000003" fill="none" stroke-linejoin="round" stroke-linecap="round" />
<path d="M763.8 390.7 L768.5 394.7 L770.1 414.5" stroke="#000" stroke-width="4.42" fill="none" stroke-linejoin="round" stroke-linecap="round" />
<path d="M774.1 395.5 L776.5 416.1" stroke="#000" stroke-width="4.16" fill="none" stroke-linejoin="round" stroke-linecap="round" />
<path d="M779.6 397.9 L780.4 414.5" stroke="#000" stroke-width="2.8600000000000003" fill="none" stroke-linejoin="round" stroke-linecap="round" />
<path d="M786 401 L787.3 420.1" stroke="#000" stroke-width="3.9000000000000004" fill="none" stroke-linejoin="round" stroke-linecap="round" />
<path d="M761.4 392.3 L763.8 412.9 L751.1 428.8" stroke="#000" stroke-width="4.42" fill="none" stroke-linejoin="round" stroke-linecap="round" />
<path d="M768.5 394.7 L793.1 405.8" stroke="#000" stroke-width="3.12" fill="none" stroke-linejoin="round" stroke-linecap="round" />
<path d="M794.7 400.3 L800.3 399 L804.2 405.3 L806 422.4 L803.4 438.3 L797.1 445.8 L792.3 441.5 L794.7 428.8 L793.6 406.6 Z" stroke="#000" stroke-width="3.3800000000000003" fill="none" stroke-linejoin="round" stroke-linecap="round" />
<path d="M797.9 403.4 L801.1 422.4 L799.5 436.7" stroke="#000" stroke-width="1.8199999999999998" fill="none" stroke-linejoin="round" stroke-linecap="round" />
<path d="M790.7 408.2 L792.3 433.5" stroke="#000" stroke-width="2.8600000000000003" fill="none" stroke-linejoin="round" stroke-linecap="round" />
<path d="M735.3 417.7 L760.6 428.8 L786 438.3" stroke="#000" stroke-width="4.16" fill="none" stroke-linejoin="round" stroke-linecap="round" />
<path d="M743.2 414.5 L771.7 426.4 L790.7 433.5" stroke="#000" stroke-width="2.8600000000000003" fill="none" stroke-linejoin="round" stroke-linecap="round" />
<path d="M738.4 428 L760.6 437 L778.1 444 L789.2 441.5" stroke="#000" stroke-width="3.9000000000000004" fill="none" stroke-linejoin="round" stroke-linecap="round" />
<path d="M763.8 428.8 L778.1 422.4 L786 426.4 L771.7 433.5 Z" stroke="#000" stroke-width="2.08" fill="none" stroke-linejoin="round" stroke-linecap="round" />
<path d="M770.1 435.1 L784.4 430.4" stroke="#000" stroke-width="2.6" fill="none" stroke-linejoin="round" stroke-linecap="round" />
<path d="M717.8 414.5 L722.6 422.4 L721 435.1 L714.6 441.5 L721 449.4 L721.8 460" stroke="#000" stroke-width="3.3800000000000003" fill="none" stroke-linejoin="round" stroke-linecap="round" />
<path d="M727.3 422.4 L729.7 435.1 L724.2 441.5" stroke="#000" stroke-width="2.3400000000000003" fill="none" stroke-linejoin="round" stroke-linecap="round" />
<path d="M732.1 428.8 L744.8 435.1 L749.5 451" stroke="#000" stroke-width="3.12" fill="none" stroke-linejoin="round" stroke-linecap="round" />
<path d="M738.4 428.8 L751.1 435.1 L754.3 444.6" stroke="#000" stroke-width="2.6" fill="none" stroke-linejoin="round" stroke-linecap="round" />
<path d="M732.1 441.5 L743.2 447.8" stroke="#000" stroke-width="3.12" fill="none" stroke-linejoin="round" stroke-linecap="round" />
<circle cx="756.7" cy="444.6" r="2.2" fill="#111"/>
<circle cx="729.7" cy="449.4" r="1.8" fill="#111"/>
<path d="M720.2 420 L718.3 432.7 L713.9 440.6 L719.2 448.5 L719.2 467.6 L723.1 486.6 L721.8 496.1" stroke="#000" stroke-width="3.9000000000000004" fill="none" stroke-linejoin="round" stroke-linecap="round" />
<path d="M750 429.5 L754.8 443.8 L761.4 464.4 L764.3 483.4 L765.9 508.8" stroke="#000" stroke-width="3.9000000000000004" fill="none" stroke-linejoin="round" stroke-linecap="round" />
<path d="M754.8 445.4 L759.5 466 L761.4 486.6 L760.8 508.8" stroke="#000" stroke-width="2.08" fill="none" stroke-linejoin="round" stroke-linecap="round" />
<path d="M748.4 439 L751.6 459.6 L750 483.4 L747.6 515.1" stroke="#000" stroke-width="3.9000000000000004" fill="none" stroke-linejoin="round" stroke-linecap="round" />
<path d="M732.6 442.2 L751.6 447.7" stroke="#000" stroke-width="3.12" fill="none" stroke-linejoin="round" stroke-linecap="round" />
<path d="M740.5 448.5 L742.4 461.2 L739.7 472.3 L732.6 477.9" stroke="#000" stroke-width="3.3800000000000003" fill="none" stroke-linejoin="round" stroke-linecap="round" />
<path d="M746 450.1 L747.2 464.4 L743.7 475.5" stroke="#000" stroke-width="1.8199999999999998" fill="none" stroke-linejoin="round" stroke-linecap="round" />
<path d="M727.8 475.5 L753.5 482.2" stroke="#000" stroke-width="3.9000000000000004" fill="none" stroke-linejoin="round" stroke-linecap="round" />
<path d="M726.5 479 L752.4 485.8" stroke="#000" stroke-width="2.08" fill="none" stroke-linejoin="round" stroke-linecap="round" />
<path d="M732.6 482.6 L731.3 512" stroke="#000" stroke-width="3.3800000000000003" fill="none" stroke-linejoin="round" stroke-linecap="round" />
<path d="M739.7 484.2 L738.9 494.5 L747.6 496.1" stroke="#000" stroke-width="2.6" fill="none" stroke-linejoin="round" stroke-linecap="round" />
<path d="M724.6 496.1 L747.6 502.4" stroke="#000" stroke-width="2.6" fill="none" stroke-linejoin="round" stroke-linecap="round" />
<path d="M732.6 494.5 L747.2 499.3" stroke="#000" stroke-width="1.8199999999999998" fill="none" stroke-linejoin="round" stroke-linecap="round" />
<path d="M732.6 512 L746.8 499.3" stroke="#000" stroke-width="2.08" fill="none" stroke-linejoin="round" stroke-linecap="round" />
<path d="M723.1 486.6 L732.6 482.6" stroke="#000" stroke-width="2.08" fill="none" stroke-linejoin="round" stroke-linecap="round" />
<path d="M751.6 486.6 L759.5 489.8 L758.7 508.8" stroke="#000" stroke-width="2.08" fill="none" stroke-linejoin="round" stroke-linecap="round" />
<path d="M750 502.4 L759.5 494.5" stroke="#000" stroke-width="1.8199999999999998" fill="none" stroke-linejoin="round" stroke-linecap="round" />
<ellipse cx="730.2" cy="468.4" rx="4" ry="3" fill="none" stroke="#000" stroke-width="1.5"/>
<circle cx="726.5" cy="469.9" r="2.2" fill="#111"/>
<circle cx="757.1" cy="445.4" r="2.2" fill="#111"/>
<path d="M705.6 490.9 L721.5 496.4 L726.2 502.4 L731 515.9" stroke="#000" stroke-width="2.8600000000000003" fill="none" stroke-linejoin="round" stroke-linecap="round" />
<path d="M698.5 496.1 L707.2 499.3 L723.1 505.6 L732.6 512" stroke="#000" stroke-width="3.9000000000000004" fill="none" stroke-linejoin="round" stroke-linecap="round" />
<path d="M702.4 506.4 L707.2 505.6 L731 515.9 L746.8 521.5 L756.3 531 L767.4 539.2" stroke="#000" stroke-width="3.9000000000000004" fill="none" stroke-linejoin="round" stroke-linecap="round" />
<path d="M699.3 497.7 L700.9 505.6" stroke="#000" stroke-width="4.680000000000001" fill="none" stroke-linejoin="round" stroke-linecap="round" />
<path d="M708.8 499.3 L716.7 508.8" stroke="#000" stroke-width="3.12" fill="none" stroke-linejoin="round" stroke-linecap="round" />
<path d="M716.7 499.3 L719.1 503.2" stroke="#000" stroke-width="3.9000000000000004" fill="none" stroke-linejoin="round" stroke-linecap="round" />
<path d="M747.6 515.1 L757.9 521.5 L759.5 531" stroke="#000" stroke-width="3.3800000000000003" fill="none" stroke-linejoin="round" stroke-linecap="round" />
<path d="M751.6 513.5 L764.3 518.3 L767.4 531 L765.9 537.3" stroke="#000" stroke-width="2.08" fill="none" stroke-linejoin="round" stroke-linecap="round" />
<path d="M756.3 523.1 L764.3 534.2" stroke="#000" stroke-width="4.16" fill="none" stroke-linejoin="round" stroke-linecap="round" />
<path d="M765.9 508.8 L774.7 514.2 L778.1 521.5 L775.7 529.4 L767.4 539.2" stroke="#000" stroke-width="2.6" fill="none" stroke-linejoin="round" stroke-linecap="round" />
<path d="M764.3 512 L770.6 521.5 L769 534.2" stroke="#000" stroke-width="1.56" fill="none" stroke-linejoin="round" stroke-linecap="round" />
<g transform="translate(692.5 516.5) rotate(-38)"><rect x="-1.9" y="-1" width="3.8" height="9.5" fill="#111" stroke="#000" stroke-width="1"/><rect x="-1.5" y="8" width="3" height="6.5" fill="#111" stroke="#000" stroke-width="0.8"/><ellipse cx="0" cy="-3" rx="2.3" ry="3" fill="#fff" stroke="#000" stroke-width="1.4"/></g>
<path d="M754.1 585.1 L758.8 583.3 L794.5 600.9 L801.2 606.8 L802.8 617.6 L803.4 636.6 L799.3 648 L788.5 656.6 L779 654.4 L766 650.2 L765 647.7 L773.9 647.4 L775.5 644.5 L773.9 627.4 L759.6 615.7 L760.3 617.6 L739.3 606.2 L738.1 599.5 L741.6 597.9 L759.6 589.7 Z" stroke="#000" stroke-width="2.0" fill="#fff" stroke-linejoin="round" stroke-linecap="round" />
<path d="M754.1 585.1 L755.2 587.8 L759.6 589.7" stroke="#000" stroke-width="2.6" fill="none" stroke-linejoin="round" stroke-linecap="round" />
<path d="M758.8 583.3 L759.6 589.7" stroke="#000" stroke-width="1.2" fill="none" stroke-linejoin="round" stroke-linecap="round" />
<path d="M741.6 597.9 L748.5 597 L756.5 593 L759.6 589.7" stroke="#000" stroke-width="1.2" fill="none" stroke-linejoin="round" stroke-linecap="round" />
<path d="M741.6 597.9 L783.4 617.6 L780.3 621.1 L739.3 602.5" stroke="#000" stroke-width="1.6" fill="none" stroke-linejoin="round" stroke-linecap="round" />
<path d="M738.4 601.7 L780.3 621.1 L773.9 627.4" stroke="#000" stroke-width="2.8" fill="none" stroke-linejoin="round" stroke-linecap="round" />
<path d="M783.4 617.6 L788.2 608.1 L794.5 603.3 L801.2 606.8" stroke="#000" stroke-width="1.8" fill="none" stroke-linejoin="round" stroke-linecap="round" />
<path d="M780.3 621.1 L785 649.3 L788.5 656.6" stroke="#000" stroke-width="1.5" fill="none" stroke-linejoin="round" stroke-linecap="round" />
<path d="M783.4 617.6 L786.3 611.2 L792.1 606.2" stroke="#000" stroke-width="1.0" fill="none" stroke-linejoin="round" stroke-linecap="round" />
<path d="M787.4 619.2 L790.6 609.6 L796.1 607.3 L800.1 610.4 L801.7 633.4 L798.5 644.5 L789.8 652.4 L787.4 646.1 Z" stroke="#000" stroke-width="1.3" fill="none" stroke-linejoin="round" stroke-linecap="round" />
<path d="M789 621.5 L795.8 611.5 L797.7 612.8 L798.5 631 L791.3 636.6 L789.8 633.4 Z" stroke="#000" stroke-width="2.2" fill="none" stroke-linejoin="round" stroke-linecap="round" />
<path d="M791.7 623.1 L795.5 616.8 L796.1 629.9 L792.3 633.1 Z" stroke="#000" stroke-width="1.0" fill="none" stroke-linejoin="round" stroke-linecap="round" />
<circle cx="795.3" cy="641.7" r="2.6" fill="#222"/>
<path d="M765.7 648.6 L773.9 649.3 L777.9 652.4" stroke="#000" stroke-width="3.2" fill="none" stroke-linejoin="round" stroke-linecap="round" />
<path d="M760.4 617.6 L773.9 623.1" stroke="#000" stroke-width="2.4" fill="none" stroke-linejoin="round" stroke-linecap="round" />
<g transform="translate(776.6 674.4) rotate(8)"><rect x="-1.3" y="-4" width="2.6" height="6" fill="#fff" stroke="#000" stroke-width="1.1"/><ellipse cx="0" cy="2.6" rx="3" ry="1.9" fill="#333" stroke="#000" stroke-width="1.1"/></g>
<path d="M220 245 L257.3 214.6 L630.7 387.4 L664.5 358.3" stroke="#000" stroke-width="1.4" fill="none" stroke-linejoin="round" stroke-linecap="round" stroke-dasharray="10 2.6 2.2 2.6"/>
<path d="M664.5 358.3 L653.3 352" stroke="#000" stroke-width="1.3" fill="none" stroke-linejoin="round" stroke-linecap="round" />
<path d="M118.5 317.2 L167 278.6 L382 378.5 L421.8 346" stroke="#000" stroke-width="1.4" fill="none" stroke-linejoin="round" stroke-linecap="round" stroke-dasharray="10 2.6 2.2 2.6"/>
<path d="M421.8 346 L411.9 341" stroke="#000" stroke-width="1.3" fill="none" stroke-linejoin="round" stroke-linecap="round" />
<path d="M497.2 419.6 L463.6 455.7" stroke="#000" stroke-width="1.25" fill="none" stroke-linejoin="round" stroke-linecap="round" stroke-dasharray="10 2.6 2.2 2.6"/>
<path d="M63.6 602 L189.4 494.3 L244.3 518.5" stroke="#000" stroke-width="1.25" fill="none" stroke-linejoin="round" stroke-linecap="round" stroke-dasharray="10 2.6 2.2 2.6"/>
<path d="M707.8 319.8 L742.7 291" stroke="#000" stroke-width="1.25" fill="none" stroke-linejoin="round" stroke-linecap="round" stroke-dasharray="10 2.6 2.2 2.6"/>
<path d="M709 351 L726 336.5" stroke="#000" stroke-width="1.25" fill="none" stroke-linejoin="round" stroke-linecap="round" stroke-dasharray="10 2.6 2.2 2.6"/>
<path d="M780 387 L798 372" stroke="#000" stroke-width="1.25" fill="none" stroke-linejoin="round" stroke-linecap="round" stroke-dasharray="10 2.6 2.2 2.6"/>
<path d="M795 418.2 L837.4 437.4" stroke="#000" stroke-width="1.25" fill="none" stroke-linejoin="round" stroke-linecap="round" stroke-dasharray="10 2.6 2.2 2.6"/>
<path d="M778.8 455 L762.2 468.4" stroke="#000" stroke-width="1.0" fill="none" stroke-linejoin="round" stroke-linecap="round" />
<path d="M785.4 509.8 L777.7 516.5" stroke="#000" stroke-width="1.0" fill="none" stroke-linejoin="round" stroke-linecap="round" />
<path d="M779.5 654.8 L776.8 670.7" stroke="#000" stroke-width="1.0" fill="none" stroke-linejoin="round" stroke-linecap="round" />
<line x1="253.5" y1="126" x2="220" y2="150" stroke="#000" stroke-width="1.2" />
<line x1="289" y1="144" x2="273.5" y2="177" stroke="#000" stroke-width="1.2" />
<line x1="330" y1="164" x2="329.5" y2="190" stroke="#000" stroke-width="1.2" />
<line x1="366" y1="181" x2="357" y2="204.6" stroke="#000" stroke-width="1.2" />
<line x1="396" y1="196" x2="385.6" y2="217" stroke="#000" stroke-width="1.2" />
<line x1="428.5" y1="212" x2="398.6" y2="237" stroke="#000" stroke-width="1.2" />
<line x1="464" y1="229.5" x2="456" y2="236" stroke="#000" stroke-width="1.2" />
<line x1="487.6" y1="237.5" x2="476" y2="243" stroke="#000" stroke-width="1.2" />
<line x1="517.5" y1="250.7" x2="509.5" y2="257" stroke="#000" stroke-width="1.2" />
<line x1="548.8" y1="269.4" x2="540.6" y2="280.6" stroke="#000" stroke-width="1.2" />
<line x1="589.8" y1="286.8" x2="584.3" y2="295.3" stroke="#000" stroke-width="1.2" />
<line x1="620.9" y1="302.2" x2="614.2" y2="313.5" stroke="#000" stroke-width="1.2" />
<line x1="664.5" y1="324.7" x2="653.3" y2="337.1" stroke="#000" stroke-width="1.2" />
<line x1="210" y1="215" x2="219.4" y2="245.7" stroke="#000" stroke-width="1.2" />
<line x1="245" y1="231" x2="272" y2="272" stroke="#000" stroke-width="1.2" />
<line x1="273.5" y1="247" x2="287" y2="279" stroke="#000" stroke-width="1.2" />
<line x1="299.6" y1="261.4" x2="302.6" y2="283" stroke="#000" stroke-width="1.2" />
<line x1="319.5" y1="272" x2="317" y2="284.4" stroke="#000" stroke-width="1.2" />
<line x1="341.5" y1="284.4" x2="334" y2="300.6" stroke="#000" stroke-width="1.2" />
<line x1="367.4" y1="298" x2="357.4" y2="308" stroke="#000" stroke-width="1.2" />
<line x1="394.4" y1="308.7" x2="379.5" y2="318.7" stroke="#000" stroke-width="1.2" />
<line x1="421.8" y1="318.7" x2="397.4" y2="327.9" stroke="#000" stroke-width="1.2" />
<line x1="446.2" y1="329.4" x2="411.9" y2="337.9" stroke="#000" stroke-width="1.2" />
<line x1="110.6" y1="271" x2="115.3" y2="301" stroke="#000" stroke-width="1.2" />
<line x1="151.2" y1="291" x2="154.2" y2="329.7" stroke="#000" stroke-width="1.2" />
<line x1="189.5" y1="310.5" x2="195.8" y2="346.6" stroke="#000" stroke-width="1.2" />
<line x1="213.7" y1="323.5" x2="211.2" y2="349.6" stroke="#000" stroke-width="1.2" />
<line x1="217.4" y1="389.5" x2="222" y2="373.3" stroke="#000" stroke-width="1.2" />
<line x1="244.9" y1="339.7" x2="235.9" y2="352.9" stroke="#000" stroke-width="1.2" />
<line x1="277.3" y1="353.6" x2="256.9" y2="367.8" stroke="#000" stroke-width="1.2" />
<line x1="308.5" y1="366" x2="277.3" y2="379.7" stroke="#000" stroke-width="1.2" />
<line x1="334.6" y1="378.5" x2="297.3" y2="387.7" stroke="#000" stroke-width="1.2" />
<line x1="296.8" y1="420.3" x2="301" y2="417" stroke="#000" stroke-width="1.2" />
<line x1="363.3" y1="394.2" x2="347.1" y2="404.1" stroke="#000" stroke-width="1.2" />
<line x1="403.6" y1="412.6" x2="377" y2="427" stroke="#000" stroke-width="1.2" />
<line x1="431.8" y1="425.8" x2="420.6" y2="431.5" stroke="#000" stroke-width="1.2" />
<line x1="407.4" y1="483" x2="421.8" y2="467" stroke="#000" stroke-width="1.2" />
<line x1="425" y1="507.2" x2="431" y2="486" stroke="#000" stroke-width="1.2" />
<line x1="451.8" y1="514.2" x2="453" y2="491" stroke="#000" stroke-width="1.2" />
<line x1="476.7" y1="517.7" x2="473.5" y2="494.7" stroke="#000" stroke-width="1.2" />
<line x1="516.7" y1="469.4" x2="499.2" y2="485.6" stroke="#000" stroke-width="1.2" />
<line x1="540.8" y1="478" x2="520.9" y2="487.3" stroke="#000" stroke-width="1.2" />
<line x1="565.7" y1="490.6" x2="542" y2="501.8" stroke="#000" stroke-width="1.2" />
<line x1="594.9" y1="501.3" x2="560.8" y2="510.5" stroke="#000" stroke-width="1.2" />
<line x1="557.4" y1="553.3" x2="564.4" y2="544.6" stroke="#000" stroke-width="1.2" />
<line x1="579.9" y1="563.2" x2="586.3" y2="549.5" stroke="#000" stroke-width="1.2" />
<line x1="605.5" y1="575.7" x2="608" y2="568.2" stroke="#000" stroke-width="1.2" />
<line x1="631.8" y1="588.2" x2="636" y2="565.8" stroke="#000" stroke-width="1.2" />
<line x1="664.2" y1="601.4" x2="671" y2="576.5" stroke="#000" stroke-width="1.2" />
<line x1="219.3" y1="469.4" x2="221.8" y2="481.1" stroke="#000" stroke-width="1.2" />
<line x1="234.8" y1="572" x2="234.3" y2="562" stroke="#000" stroke-width="1.2" />
<line x1="269.8" y1="655.8" x2="281" y2="633.4" stroke="#000" stroke-width="1.2" />
<line x1="399.3" y1="573.2" x2="388" y2="578.2" stroke="#000" stroke-width="1.2" />
<line x1="664.4" y1="204.5" x2="652.5" y2="209.5" stroke="#000" stroke-width="1.2" />
<line x1="372" y1="628" x2="369.4" y2="639.3" stroke="#000" stroke-width="1.2" />
<line x1="476.8" y1="393.4" x2="473.6" y2="412" stroke="#000" stroke-width="1.2" />
<line x1="520.9" y1="396" x2="517.2" y2="409.6" stroke="#000" stroke-width="1.2" />
<line x1="604" y1="119" x2="624.6" y2="131" stroke="#000" stroke-width="1.2" />
<line x1="589" y1="411" x2="609.3" y2="423.3" stroke="#000" stroke-width="1.2" />
<line x1="743.2" y1="310.6" x2="727.3" y2="310.6" stroke="#000" stroke-width="1.2" />
<line x1="766.4" y1="289.4" x2="749" y2="289.4" stroke="#000" stroke-width="1.2" />
<line x1="576" y1="150" x2="592.7" y2="162" stroke="#000" stroke-width="1.2" />
<line x1="684" y1="507.8" x2="707" y2="490.6" stroke="#000" stroke-width="1.2" />
<line x1="684" y1="507.8" x2="692" y2="516" stroke="#000" stroke-width="1.2" />
<line x1="798.4" y1="481.9" x2="786" y2="470.5" stroke="#000" stroke-width="1.2" />
<line x1="754.7" y1="161" x2="752" y2="152" stroke="#000" stroke-width="1.2" />
<line x1="856.5" y1="466.3" x2="853.4" y2="456" stroke="#000" stroke-width="1.2" />
<line x1="815.9" y1="603" x2="801.7" y2="609.6" stroke="#000" stroke-width="1.2" />
<line x1="796.9" y1="687.3" x2="780" y2="676.5" stroke="#000" stroke-width="1.2" />
<line x1="405.6" y1="745.5" x2="477.3" y2="702" stroke="#000" stroke-width="1.2" />
<line x1="184" y1="519.2" x2="171.5" y2="519.2" stroke="#000" stroke-width="1.2" />
<line x1="157" y1="592.5" x2="103.5" y2="589" stroke="#000" stroke-width="1.2" />
<line x1="249.4" y1="754.4" x2="184.4" y2="738.6" stroke="#000" stroke-width="1.2" />
<line x1="772.6" y1="341.7" x2="747.7" y2="369.6" stroke="#000" stroke-width="1.2" />
<line x1="820.2" y1="518.5" x2="795" y2="504.7" stroke="#000" stroke-width="1.2" />
<line x1="838.6" y1="375.3" x2="807.5" y2="367.6" stroke="#000" stroke-width="1.2" />
<line x1="101" y1="173.5" x2="124.6" y2="208.9" stroke="#ff1a1a" stroke-width="1.6" />
<line x1="532" y1="105.3" x2="558.5" y2="119" stroke="#1a3cff" stroke-width="1.6" />
<line x1="147" y1="217" x2="176.5" y2="209.6" stroke="#1a8f1a" stroke-width="1.6" />
<line x1="363.3" y1="476.4" x2="384.5" y2="484.9" stroke="#a0561e" stroke-width="1.1" />
<path d="M431.6 484.5 L432 489 L428.6 487.6 Z" stroke="#000" stroke-width="0.8" fill="#000" stroke-linejoin="round" stroke-linecap="round" />
<g filter="url(#nf)">
<text x="259.4" y="125" font-size="16.1" fill="#000" textLength="6.7" lengthAdjust="spacingAndGlyphs" stroke="#000" stroke-width="0.35">1</text>
<text x="289.1" y="140" font-size="18.6" fill="#000" textLength="9.9" lengthAdjust="spacingAndGlyphs" stroke="#000" stroke-width="0.35">2</text>
<text x="327.1" y="157" font-size="17.1" fill="#000" textLength="8.7" lengthAdjust="spacingAndGlyphs" stroke="#000" stroke-width="0.35">3</text>
<text x="366.2" y="176.5" font-size="16.4" fill="#000" textLength="10.2" lengthAdjust="spacingAndGlyphs" stroke="#000" stroke-width="0.35">4</text>
<text x="397.2" y="191.7" font-size="16.7" fill="#000" textLength="10.4" lengthAdjust="spacingAndGlyphs" stroke="#000" stroke-width="0.35">5</text>
<text x="433.2" y="208.4" font-size="16.7" fill="#000" textLength="9.7" lengthAdjust="spacingAndGlyphs" stroke="#000" stroke-width="0.35">6</text>
<text x="470.1" y="226" font-size="17.9" fill="#000" textLength="8.4" lengthAdjust="spacingAndGlyphs" stroke="#000" stroke-width="0.35">7</text>
<text x="495" y="238" font-size="16.3" fill="#000" textLength="10.3" lengthAdjust="spacingAndGlyphs" stroke="#000" stroke-width="0.35">8</text>
<text x="523.5" y="249.5" font-size="17.9" fill="#000" textLength="9.8" lengthAdjust="spacingAndGlyphs" stroke="#000" stroke-width="0.35">9</text>
<text x="551.6" y="266" font-size="17.1" fill="#000" textLength="15.2" lengthAdjust="spacingAndGlyphs" stroke="#000" stroke-width="0.35">10</text>
<text x="591.8" y="282.3" font-size="17.6" fill="#000" textLength="13.3" lengthAdjust="spacingAndGlyphs" stroke="#000" stroke-width="0.35">11</text>
<text x="621.7" y="297.8" font-size="17.9" fill="#000" textLength="15.8" lengthAdjust="spacingAndGlyphs" stroke="#000" stroke-width="0.35">12</text>
<text x="667.3" y="321.7" font-size="17.9" fill="#000" textLength="15.6" lengthAdjust="spacingAndGlyphs" stroke="#000" stroke-width="0.35">13</text>
<text x="194.1" y="211" font-size="18" fill="#000" textLength="15.5" lengthAdjust="spacingAndGlyphs" stroke="#000" stroke-width="0.35">14</text>
<text x="228.1" y="227" font-size="17.1" fill="#000" textLength="15.7" lengthAdjust="spacingAndGlyphs" stroke="#000" stroke-width="0.35">15</text>
<text x="258.1" y="241.5" font-size="17.1" fill="#000" textLength="14.4" lengthAdjust="spacingAndGlyphs" stroke="#000" stroke-width="0.35">16</text>
<text x="288.1" y="255.7" font-size="18.1" fill="#000" textLength="13.8" lengthAdjust="spacingAndGlyphs" stroke="#000" stroke-width="0.35">17</text>
<text x="315.6" y="266.4" font-size="17" fill="#000" textLength="14.2" lengthAdjust="spacingAndGlyphs" stroke="#000" stroke-width="0.35">18</text>
<text x="341.1" y="279.4" font-size="17.7" fill="#000" textLength="15.5" lengthAdjust="spacingAndGlyphs" stroke="#000" stroke-width="0.35">19</text>
<text x="368.5" y="293" font-size="17.7" fill="#000" textLength="18" lengthAdjust="spacingAndGlyphs" stroke="#000" stroke-width="0.35">20</text>
<text x="399.1" y="306.8" font-size="18.3" fill="#000" textLength="15.8" lengthAdjust="spacingAndGlyphs" stroke="#000" stroke-width="0.35">21</text>
<text x="427.1" y="320" font-size="17.9" fill="#000" textLength="17.8" lengthAdjust="spacingAndGlyphs" stroke="#000" stroke-width="0.35">22</text>
<text x="452.7" y="333.6" font-size="18.9" fill="#000" textLength="18.1" lengthAdjust="spacingAndGlyphs" stroke="#000" stroke-width="0.35">23</text>
<text x="96" y="266" font-size="17.6" fill="#000" textLength="17.7" lengthAdjust="spacingAndGlyphs" stroke="#000" stroke-width="0.35">24</text>
<text x="129.6" y="286.6" font-size="18.6" fill="#000" textLength="26.8" lengthAdjust="spacingAndGlyphs" stroke="#000" stroke-width="0.35">25C</text>
<text x="176.1" y="304.3" font-size="17.9" fill="#000" textLength="18.1" lengthAdjust="spacingAndGlyphs" stroke="#000" stroke-width="0.35">26</text>
<text x="209.8" y="316.7" font-size="17.7" fill="#000" textLength="17.5" lengthAdjust="spacingAndGlyphs" stroke="#000" stroke-width="0.35">27</text>
<text x="206.1" y="407" font-size="17.9" fill="#000" textLength="18" lengthAdjust="spacingAndGlyphs" stroke="#000" stroke-width="0.35">28</text>
<text x="246.4" y="335.2" font-size="18.6" fill="#000" textLength="17.6" lengthAdjust="spacingAndGlyphs" stroke="#000" stroke-width="0.35">29</text>
<text x="281.4" y="352.3" font-size="18.4" fill="#000" textLength="18" lengthAdjust="spacingAndGlyphs" stroke="#000" stroke-width="0.35">30</text>
<text x="315.1" y="367.8" font-size="17.9" fill="#000" textLength="16.8" lengthAdjust="spacingAndGlyphs" stroke="#000" stroke-width="0.35">31</text>
<text x="341.7" y="381" font-size="17.9" fill="#000" textLength="18.2" lengthAdjust="spacingAndGlyphs" stroke="#000" stroke-width="0.35">32</text>
<text x="273.4" y="432" font-size="17.7" fill="#000" textLength="18" lengthAdjust="spacingAndGlyphs" stroke="#000" stroke-width="0.35">33</text>
<text x="367.9" y="393.4" font-size="18.9" fill="#000" textLength="18.8" lengthAdjust="spacingAndGlyphs" stroke="#000" stroke-width="0.35">34</text>
<text x="408.5" y="412.6" font-size="18.4" fill="#000" textLength="18" lengthAdjust="spacingAndGlyphs" stroke="#000" stroke-width="0.35">35</text>
<text x="437.8" y="425.8" font-size="17.7" fill="#000" textLength="17.1" lengthAdjust="spacingAndGlyphs" stroke="#000" stroke-width="0.35">36</text>
<text x="387.3" y="498.6" font-size="18.6" fill="#000" textLength="17.3" lengthAdjust="spacingAndGlyphs" stroke="#000" stroke-width="0.35">37</text>
<text x="410.3" y="524" font-size="18.6" fill="#000" textLength="17.6" lengthAdjust="spacingAndGlyphs" stroke="#000" stroke-width="0.35">38</text>
<text x="439" y="531.6" font-size="18.9" fill="#000" textLength="18" lengthAdjust="spacingAndGlyphs" stroke="#000" stroke-width="0.35">39</text>
<text x="473.3" y="536.6" font-size="18.9" fill="#000" textLength="17.9" lengthAdjust="spacingAndGlyphs" stroke="#000" stroke-width="0.35">40</text>
<text x="520.1" y="466.2" font-size="18.9" fill="#000" textLength="17.5" lengthAdjust="spacingAndGlyphs" stroke="#000" stroke-width="0.35">41</text>
<text x="546.7" y="479.4" font-size="18.6" fill="#000" textLength="18.8" lengthAdjust="spacingAndGlyphs" stroke="#000" stroke-width="0.35">42</text>
<text x="571.1" y="491.8" font-size="18.4" fill="#000" textLength="19.2" lengthAdjust="spacingAndGlyphs" stroke="#000" stroke-width="0.35">43</text>
<text x="600.5" y="504.8" font-size="18.6" fill="#000" textLength="19.8" lengthAdjust="spacingAndGlyphs" stroke="#000" stroke-width="0.35">44</text>
<text x="537.4" y="569.5" font-size="18.6" fill="#000" textLength="18.6" lengthAdjust="spacingAndGlyphs" stroke="#000" stroke-width="0.35">45</text>
<text x="561.5" y="580.7" font-size="18.9" fill="#000" textLength="18.9" lengthAdjust="spacingAndGlyphs" stroke="#000" stroke-width="0.35">46</text>
<text x="588.9" y="593" font-size="18.6" fill="#000" textLength="18.4" lengthAdjust="spacingAndGlyphs" stroke="#000" stroke-width="0.35">47</text>
<text x="616.5" y="605.7" font-size="18.9" fill="#000" textLength="18.8" lengthAdjust="spacingAndGlyphs" stroke="#000" stroke-width="0.35">48</text>
<text x="645.9" y="619.4" font-size="18.6" fill="#000" textLength="18.6" lengthAdjust="spacingAndGlyphs" stroke="#000" stroke-width="0.35">49</text>
<text x="203.5" y="464.4" font-size="18.9" fill="#000" textLength="18.1" lengthAdjust="spacingAndGlyphs" stroke="#000" stroke-width="0.35">60</text>
<text x="230.4" y="590.7" font-size="17.7" fill="#000" textLength="16" lengthAdjust="spacingAndGlyphs" stroke="#000" stroke-width="0.35">61</text>
<text x="251" y="673.3" font-size="19" fill="#000" textLength="17.8" lengthAdjust="spacingAndGlyphs" stroke="#000" stroke-width="0.35">62</text>
<text x="404.7" y="574.4" font-size="18.9" fill="#000" textLength="18.1" lengthAdjust="spacingAndGlyphs" stroke="#000" stroke-width="0.35">63</text>
<text x="671.1" y="205" font-size="17.9" fill="#000" textLength="16.8" lengthAdjust="spacingAndGlyphs" stroke="#000" stroke-width="0.35">63</text>
<text x="351.1" y="655.8" font-size="18.9" fill="#000" textLength="19.4" lengthAdjust="spacingAndGlyphs" stroke="#000" stroke-width="0.35">64</text>
<text x="474.4" y="387.2" font-size="18.6" fill="#000" textLength="17.1" lengthAdjust="spacingAndGlyphs" stroke="#000" stroke-width="0.35">75</text>
<text x="518" y="391" font-size="19" fill="#000" textLength="17.9" lengthAdjust="spacingAndGlyphs" stroke="#000" stroke-width="0.35">76</text>
<text x="582.6" y="119.3" font-size="17.9" fill="#000" textLength="16.7" lengthAdjust="spacingAndGlyphs" stroke="#000" stroke-width="0.35">77</text>
<text x="567.2" y="411" font-size="19" fill="#000" textLength="16.9" lengthAdjust="spacingAndGlyphs" stroke="#000" stroke-width="0.35">77</text>
<text x="750.5" y="317.8" font-size="18.6" fill="#000" textLength="17.5" lengthAdjust="spacingAndGlyphs" stroke="#000" stroke-width="0.35">78</text>
<text x="773" y="295.4" font-size="18.6" fill="#000" textLength="18" lengthAdjust="spacingAndGlyphs" stroke="#000" stroke-width="0.35">79</text>
<text x="556.9" y="151.7" font-size="18.1" fill="#000" textLength="17.5" lengthAdjust="spacingAndGlyphs" stroke="#000" stroke-width="0.35">80</text>
<text x="670.1" y="502.3" font-size="18.6" fill="#000" textLength="17.9" lengthAdjust="spacingAndGlyphs" stroke="#000" stroke-width="0.35">80</text>
<text x="802.7" y="497" font-size="18.6" fill="#000" textLength="16.3" lengthAdjust="spacingAndGlyphs" stroke="#000" stroke-width="0.35">81</text>
<text x="751.8" y="180.8" font-size="18.9" fill="#000" textLength="18.2" lengthAdjust="spacingAndGlyphs" stroke="#000" stroke-width="0.35">82</text>
<text x="852.8" y="485" font-size="19.3" fill="#000" textLength="18.5" lengthAdjust="spacingAndGlyphs" stroke="#000" stroke-width="0.35">82</text>
<text x="820.6" y="604.9" font-size="18.1" fill="#000" textLength="18.3" lengthAdjust="spacingAndGlyphs" stroke="#000" stroke-width="0.35">83</text>
<text x="801.1" y="700" font-size="18.1" fill="#000" textLength="18.8" lengthAdjust="spacingAndGlyphs" stroke="#000" stroke-width="0.35">84</text>
<text x="400.5" y="762.5" font-size="18.9" fill="#000" textLength="18.5" lengthAdjust="spacingAndGlyphs" stroke="#000" stroke-width="0.35">85</text>
<text x="186" y="528.4" font-size="19.6" fill="#000" textLength="18" lengthAdjust="spacingAndGlyphs" stroke="#000" stroke-width="0.35">86</text>
<text x="160.4" y="599.4" font-size="18.4" fill="#000" textLength="18" lengthAdjust="spacingAndGlyphs" stroke="#000" stroke-width="0.35">87</text>
<text x="251.6" y="765" font-size="18.6" fill="#000" textLength="19.4" lengthAdjust="spacingAndGlyphs" stroke="#000" stroke-width="0.35">88</text>
<text x="773.5" y="342.7" font-size="18.4" fill="#000" textLength="18" lengthAdjust="spacingAndGlyphs" stroke="#000" stroke-width="0.35">93</text>
<text x="822.8" y="526.8" font-size="18.9" fill="#000" textLength="18.7" lengthAdjust="spacingAndGlyphs" stroke="#000" stroke-width="0.35">94</text>
<text x="840.1" y="381.6" font-size="18.9" fill="#000" textLength="18.2" lengthAdjust="spacingAndGlyphs" stroke="#000" stroke-width="0.35">95</text>
<text x="74.1" y="167.5" font-size="17.9" fill="#ff1a1a" textLength="27.8" lengthAdjust="spacingAndGlyphs" stroke="#ff1a1a" stroke-width="0.5">89C</text>
<text x="513.5" y="102.6" font-size="18" fill="#1a3cff" textLength="26.8" lengthAdjust="spacingAndGlyphs" stroke="#1a3cff" stroke-width="0.5">90C</text>
<text x="122.1" y="228.5" font-size="17.9" fill="#1fd11f" textLength="24.8" lengthAdjust="spacingAndGlyphs" stroke="#1fd11f" stroke-width="0.5">91C</text>
<text x="345.7" y="479.9" font-size="17.9" fill="#a0561e" textLength="16.5" lengthAdjust="spacingAndGlyphs" stroke="#a0561e" stroke-width="0.5">92</text>
</g>
</svg></body></html>
